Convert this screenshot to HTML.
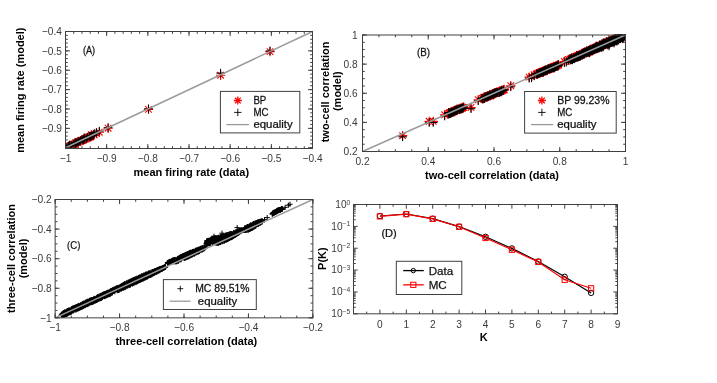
<!DOCTYPE html>
<html><head><meta charset="utf-8"><title>figure</title>
<style>html,body{margin:0;padding:0;background:#fff;}body{width:717px;height:383px;overflow:hidden;font-family:"Liberation Sans",sans-serif;}svg{display:block;will-change:transform;}</style>
</head><body>
<svg width="717" height="383" viewBox="0 0 717 383" font-family="Liberation Sans, sans-serif">
<rect width="717" height="383" fill="#fff"/>
<clipPath id="ca"><rect x="65.5" y="27.5" width="251.0" height="121.0"/></clipPath>
<g clip-path="url(#ca)">
<path d="M61.5 147.4h9.4M66.2 142.7v9.4M62.9 144.1l6.6 6.6M62.9 150.7l6.6 -6.6M62.9 146.7h9.4M67.6 142.0v9.4M64.3 143.4l6.6 6.6M64.3 150.1l6.6 -6.6M64.1 146.0h9.4M68.8 141.3v9.4M65.4 142.7l6.6 6.6M65.4 149.4l6.6 -6.6M66.4 146.4h9.4M71.1 141.7v9.4M67.7 143.1l6.6 6.6M67.7 149.7l6.6 -6.6M65.4 145.9h9.4M70.1 141.2v9.4M66.8 142.6l6.6 6.6M66.8 149.3l6.6 -6.6M67.3 145.2h9.4M72.0 140.5v9.4M68.7 141.9l6.6 6.6M68.7 148.5l6.6 -6.6M66.4 145.7h9.4M71.1 141.0v9.4M67.8 142.4l6.6 6.6M67.8 149.0l6.6 -6.6M70.8 144.5h9.4M75.5 139.8v9.4M72.1 141.2l6.6 6.6M72.1 147.9l6.6 -6.6M69.3 144.2h9.4M74.0 139.5v9.4M70.7 140.9l6.6 6.6M70.7 147.5l6.6 -6.6M69.9 144.1h9.4M74.6 139.4v9.4M71.3 140.8l6.6 6.6M71.3 147.5l6.6 -6.6M70.9 142.8h9.4M75.6 138.1v9.4M72.3 139.5l6.6 6.6M72.3 146.2l6.6 -6.6M72.6 142.6h9.4M77.3 137.9v9.4M74.0 139.3l6.6 6.6M74.0 146.0l6.6 -6.6M73.1 141.7h9.4M77.8 137.0v9.4M74.5 138.4l6.6 6.6M74.5 145.0l6.6 -6.6M73.8 141.8h9.4M78.5 137.1v9.4M75.2 138.5l6.6 6.6M75.2 145.2l6.6 -6.6M73.6 141.5h9.4M78.3 136.8v9.4M75.0 138.2l6.6 6.6M75.0 144.8l6.6 -6.6M76.2 140.7h9.4M80.9 136.0v9.4M77.6 137.4l6.6 6.6M77.6 144.1l6.6 -6.6M76.4 140.7h9.4M81.1 136.0v9.4M77.8 137.4l6.6 6.6M77.8 144.0l6.6 -6.6M78.1 140.5h9.4M82.8 135.8v9.4M79.4 137.2l6.6 6.6M79.4 143.9l6.6 -6.6M78.6 139.8h9.4M83.3 135.1v9.4M80.0 136.5l6.6 6.6M80.0 143.1l6.6 -6.6M79.9 139.1h9.4M84.6 134.4v9.4M81.2 135.8l6.6 6.6M81.2 142.5l6.6 -6.6M80.1 138.7h9.4M84.8 134.0v9.4M81.5 135.4l6.6 6.6M81.5 142.1l6.6 -6.6M80.5 138.5h9.4M85.2 133.8v9.4M81.9 135.2l6.6 6.6M81.9 141.9l6.6 -6.6M82.1 138.2h9.4M86.8 133.5v9.4M83.5 134.9l6.6 6.6M83.5 141.5l6.6 -6.6M84.0 137.7h9.4M88.7 133.0v9.4M85.4 134.4l6.6 6.6M85.4 141.0l6.6 -6.6M84.7 136.9h9.4M89.4 132.2v9.4M86.1 133.6l6.6 6.6M86.1 140.2l6.6 -6.6M84.3 136.8h9.4M89.0 132.1v9.4M85.7 133.4l6.6 6.6M85.7 140.1l6.6 -6.6M85.6 137.0h9.4M90.3 132.3v9.4M87.0 133.7l6.6 6.6M87.0 140.3l6.6 -6.6M86.4 136.2h9.4M91.1 131.5v9.4M87.8 132.9l6.6 6.6M87.8 139.5l6.6 -6.6M87.0 135.5h9.4M91.7 130.8v9.4M88.3 132.2l6.6 6.6M88.3 138.8l6.6 -6.6M86.7 134.6h9.4M91.4 129.9v9.4M88.1 131.3l6.6 6.6M88.1 138.0l6.6 -6.6M89.6 134.6h9.4M94.3 129.9v9.4M91.0 131.2l6.6 6.6M91.0 137.9l6.6 -6.6M91.7 133.6h9.4M96.4 128.9v9.4M93.1 130.3l6.6 6.6M93.1 136.9l6.6 -6.6M94.6 132.2h9.4M99.3 127.5v9.4M95.9 128.9l6.6 6.6M95.9 135.6l6.6 -6.6M215.9 75.2h9.4M220.6 70.5v9.4M217.3 71.9l6.6 6.6M217.3 78.5l6.6 -6.6M265.3 51.6h9.4M270.0 46.9v9.4M266.7 48.3l6.6 6.6M266.7 54.9l6.6 -6.6M143.8 109.4h9.4M148.5 104.7v9.4M145.2 106.1l6.6 6.6M145.2 112.7l6.6 -6.6M103.4 128.2h9.4M108.1 123.5v9.4M104.8 124.9l6.6 6.6M104.8 131.5l6.6 -6.6" stroke="#ff0000" stroke-width="1.1" fill="none"/>
<path d="M61.2 147.8h8.6M65.5 143.5v8.6M61.9 147.2h8.6M66.2 142.9v8.6M64.9 146.4h8.6M69.2 142.1v8.6M64.0 146.4h8.6M68.3 142.1v8.6M65.6 145.6h8.6M69.9 141.3v8.6M65.3 144.9h8.6M69.6 140.6v8.6M67.0 145.2h8.6M71.3 140.9v8.6M69.1 144.6h8.6M73.4 140.3v8.6M69.5 143.9h8.6M73.8 139.6v8.6M71.4 143.8h8.6M75.7 139.5v8.6M70.8 142.7h8.6M75.1 138.4v8.6M72.1 142.9h8.6M76.4 138.6v8.6M72.8 142.0h8.6M77.1 137.7v8.6M74.1 141.9h8.6M78.4 137.6v8.6M75.6 141.3h8.6M79.9 137.0v8.6M76.1 140.6h8.6M80.4 136.3v8.6M78.7 140.2h8.6M83.0 135.9v8.6M79.7 139.5h8.6M84.0 135.2v8.6M77.7 139.7h8.6M82.0 135.4v8.6M79.4 138.9h8.6M83.7 134.6v8.6M79.6 139.3h8.6M83.9 135.0v8.6M82.0 138.8h8.6M86.3 134.5v8.6M80.0 137.8h8.6M84.3 133.5v8.6M83.3 137.1h8.6M87.6 132.8v8.6M85.9 136.7h8.6M90.2 132.4v8.6M85.9 136.1h8.6M90.2 131.8v8.6M85.2 136.3h8.6M89.5 132.0v8.6M86.9 135.9h8.6M91.2 131.6v8.6M88.0 135.6h8.6M92.3 131.3v8.6M89.4 135.1h8.6M93.7 130.8v8.6M90.0 133.4h8.6M94.3 129.1v8.6M92.1 132.4h8.6M96.4 128.1v8.6M95.0 131.1h8.6M99.3 126.8v8.6M216.3 73.1h8.6M220.6 68.8v8.6M265.7 50.9h8.6M270.0 46.6v8.6M144.2 108.8h8.6M148.5 104.5v8.6M103.8 127.7h8.6M108.1 123.4v8.6" stroke="#000" stroke-width="1" fill="none"/>
<path d="M65.50 147.73L312.50 31.50" stroke="#9a9a9a" stroke-width="1.5" fill="none"/>
</g>
<rect x="65.50" y="31.50" width="247.00" height="117.00" fill="none" stroke="#404040" stroke-width="1"/>
<path d="M65.50 148.50v-4.5M65.50 31.50v4.5M106.67 148.50v-4.5M106.67 31.50v4.5M147.83 148.50v-4.5M147.83 31.50v4.5M189.00 148.50v-4.5M189.00 31.50v4.5M230.17 148.50v-4.5M230.17 31.50v4.5M271.33 148.50v-4.5M271.33 31.50v4.5M312.50 148.50v-4.5M312.50 31.50v4.5M65.50 148.50v-2.3M65.50 31.50v2.3M73.73 148.50v-2.3M73.73 31.50v2.3M81.97 148.50v-2.3M81.97 31.50v2.3M90.20 148.50v-2.3M90.20 31.50v2.3M98.43 148.50v-2.3M98.43 31.50v2.3M106.67 148.50v-2.3M106.67 31.50v2.3M114.90 148.50v-2.3M114.90 31.50v2.3M123.13 148.50v-2.3M123.13 31.50v2.3M131.37 148.50v-2.3M131.37 31.50v2.3M139.60 148.50v-2.3M139.60 31.50v2.3M147.83 148.50v-2.3M147.83 31.50v2.3M156.07 148.50v-2.3M156.07 31.50v2.3M164.30 148.50v-2.3M164.30 31.50v2.3M172.53 148.50v-2.3M172.53 31.50v2.3M180.77 148.50v-2.3M180.77 31.50v2.3M189.00 148.50v-2.3M189.00 31.50v2.3M197.23 148.50v-2.3M197.23 31.50v2.3M205.47 148.50v-2.3M205.47 31.50v2.3M213.70 148.50v-2.3M213.70 31.50v2.3M221.93 148.50v-2.3M221.93 31.50v2.3M230.17 148.50v-2.3M230.17 31.50v2.3M238.40 148.50v-2.3M238.40 31.50v2.3M246.63 148.50v-2.3M246.63 31.50v2.3M254.87 148.50v-2.3M254.87 31.50v2.3M263.10 148.50v-2.3M263.10 31.50v2.3M271.33 148.50v-2.3M271.33 31.50v2.3M279.57 148.50v-2.3M279.57 31.50v2.3M287.80 148.50v-2.3M287.80 31.50v2.3M296.03 148.50v-2.3M296.03 31.50v2.3M304.27 148.50v-2.3M304.27 31.50v2.3M312.50 148.50v-2.3M312.50 31.50v2.3M65.50 147.73h4.5M312.50 147.73h-4.5M65.50 128.35h4.5M312.50 128.35h-4.5M65.50 108.98h4.5M312.50 108.98h-4.5M65.50 89.61h4.5M312.50 89.61h-4.5M65.50 70.24h4.5M312.50 70.24h-4.5M65.50 50.87h4.5M312.50 50.87h-4.5M65.50 31.50h4.5M312.50 31.50h-4.5M65.50 147.73h2.3M312.50 147.73h-2.3M65.50 143.85h2.3M312.50 143.85h-2.3M65.50 139.98h2.3M312.50 139.98h-2.3M65.50 136.10h2.3M312.50 136.10h-2.3M65.50 132.23h2.3M312.50 132.23h-2.3M65.50 128.35h2.3M312.50 128.35h-2.3M65.50 124.48h2.3M312.50 124.48h-2.3M65.50 120.61h2.3M312.50 120.61h-2.3M65.50 116.73h2.3M312.50 116.73h-2.3M65.50 112.86h2.3M312.50 112.86h-2.3M65.50 108.98h2.3M312.50 108.98h-2.3M65.50 105.11h2.3M312.50 105.11h-2.3M65.50 101.24h2.3M312.50 101.24h-2.3M65.50 97.36h2.3M312.50 97.36h-2.3M65.50 93.49h2.3M312.50 93.49h-2.3M65.50 89.61h2.3M312.50 89.61h-2.3M65.50 85.74h2.3M312.50 85.74h-2.3M65.50 81.86h2.3M312.50 81.86h-2.3M65.50 77.99h2.3M312.50 77.99h-2.3M65.50 74.12h2.3M312.50 74.12h-2.3M65.50 70.24h2.3M312.50 70.24h-2.3M65.50 66.37h2.3M312.50 66.37h-2.3M65.50 62.49h2.3M312.50 62.49h-2.3M65.50 58.62h2.3M312.50 58.62h-2.3M65.50 54.75h2.3M312.50 54.75h-2.3M65.50 50.87h2.3M312.50 50.87h-2.3M65.50 47.00h2.3M312.50 47.00h-2.3M65.50 43.12h2.3M312.50 43.12h-2.3M65.50 39.25h2.3M312.50 39.25h-2.3M65.50 35.37h2.3M312.50 35.37h-2.3M65.50 31.50h2.3M312.50 31.50h-2.3" stroke="#404040" stroke-width="1" fill="none"/>
<text transform="translate(65.50,161.70) scale(0.95,1)" font-size="10.7" text-anchor="middle" fill="#3a3a3a">−1</text>
<text transform="translate(106.67,161.70) scale(0.95,1)" font-size="10.7" text-anchor="middle" fill="#3a3a3a">−0.9</text>
<text transform="translate(147.83,161.70) scale(0.95,1)" font-size="10.7" text-anchor="middle" fill="#3a3a3a">−0.8</text>
<text transform="translate(189.00,161.70) scale(0.95,1)" font-size="10.7" text-anchor="middle" fill="#3a3a3a">−0.7</text>
<text transform="translate(230.17,161.70) scale(0.95,1)" font-size="10.7" text-anchor="middle" fill="#3a3a3a">−0.6</text>
<text transform="translate(271.33,161.70) scale(0.95,1)" font-size="10.7" text-anchor="middle" fill="#3a3a3a">−0.5</text>
<text transform="translate(312.50,161.70) scale(0.95,1)" font-size="10.7" text-anchor="middle" fill="#3a3a3a">−0.4</text>
<text transform="translate(61.90,132.05) scale(0.95,1)" font-size="10.7" text-anchor="end" fill="#3a3a3a">−0.9</text>
<text transform="translate(61.90,112.68) scale(0.95,1)" font-size="10.7" text-anchor="end" fill="#3a3a3a">−0.8</text>
<text transform="translate(61.90,93.31) scale(0.95,1)" font-size="10.7" text-anchor="end" fill="#3a3a3a">−0.7</text>
<text transform="translate(61.90,73.94) scale(0.95,1)" font-size="10.7" text-anchor="end" fill="#3a3a3a">−0.6</text>
<text transform="translate(61.90,54.57) scale(0.95,1)" font-size="10.7" text-anchor="end" fill="#3a3a3a">−0.5</text>
<text transform="translate(61.90,35.20) scale(0.95,1)" font-size="10.7" text-anchor="end" fill="#3a3a3a">−0.4</text>
<text transform="translate(191.30,175.70) scale(1.0,1)" font-size="11.0" font-weight="bold" text-anchor="middle" fill="#000">mean firing rate (data)</text>
<text transform="translate(24.20,90.20) rotate(-90) scale(1.0,1)" font-size="11.0" font-weight="bold" text-anchor="middle" fill="#000">mean firing rate (model)</text>
<text transform="translate(82.90,53.80) scale(0.92,1)" font-size="10.0" stroke="#111" stroke-width="0.25" text-anchor="start" fill="#111">(A)</text>
<rect x="220.40" y="91.40" width="79.40" height="41.50" fill="#fff" stroke="#404040" stroke-width="1"/>
<path d="M233.8 100.5h8.0M237.8 96.5v8.0M235.0 97.7l5.7 5.7M235.0 103.3l5.7 -5.7" stroke="#ff0000" stroke-width="1.3" fill="none"/>
<text transform="translate(253.40,103.60) scale(0.95,1)" font-size="10.2" stroke="#111" stroke-width="0.25" text-anchor="start" fill="#111">BP</text>
<path d="M234.1 112.4h7.4M237.8 108.7v7.4" stroke="#000" stroke-width="0.9" fill="none"/>
<text transform="translate(253.40,115.80) scale(0.95,1)" font-size="10.2" stroke="#111" stroke-width="0.25" text-anchor="start" fill="#111">MC</text>
<path d="M226.40 124.60H249.00" stroke="#9a9a9a" stroke-width="1.3" fill="none"/>
<text transform="translate(253.40,128.00) scale(1.12,1)" font-size="10.2" stroke="#111" stroke-width="0.25" text-anchor="start" fill="#111">equality</text>
<clipPath id="cb"><rect x="362.5" y="34.5" width="263.5" height="117.0"/></clipPath>
<g clip-path="url(#cb)">
<path d="M397.9 135.6h9.4M402.6 130.9v9.4M399.3 132.3l6.6 6.6M399.3 139.0l6.6 -6.6M424.5 121.4h9.4M429.2 116.7v9.4M425.9 118.0l6.6 6.6M425.9 124.7l6.6 -6.6M428.5 121.4h9.4M433.2 116.7v9.4M429.9 118.0l6.6 6.6M429.9 124.7l6.6 -6.6M440.0 114.8h9.4M444.7 110.1v9.4M441.4 111.5l6.6 6.6M441.4 118.1l6.6 -6.6M466.3 107.5h9.4M471.0 102.8v9.4M467.7 104.2l6.6 6.6M467.7 110.8l6.6 -6.6M473.5 99.7h9.4M478.2 95.0v9.4M474.9 96.3l6.6 6.6M474.9 103.0l6.6 -6.6M506.1 85.7h9.4M510.8 81.0v9.4M507.4 82.4l6.6 6.6M507.4 89.0l6.6 -6.6M524.5 77.1h9.4M529.2 72.4v9.4M525.9 73.8l6.6 6.6M525.9 80.4l6.6 -6.6M526.8 76.6h9.4M531.5 71.9v9.4M528.2 73.3l6.6 6.6M528.2 80.0l6.6 -6.6M529.4 74.6h9.4M534.1 69.9v9.4M530.8 71.3l6.6 6.6M530.8 77.9l6.6 -6.6M559.7 61.5h9.4M564.4 56.8v9.4M561.0 58.2l6.6 6.6M561.0 64.8l6.6 -6.6M561.6 61.1h9.4M566.3 56.4v9.4M563.0 57.7l6.6 6.6M563.0 64.4l6.6 -6.6M563.6 59.5h9.4M568.3 54.8v9.4M565.0 56.1l6.6 6.6M565.0 62.8l6.6 -6.6M442.9 114.0h9.4M447.6 109.3v9.4M444.2 110.7l6.6 6.6M444.2 117.3l6.6 -6.6M444.3 113.4h9.4M449.0 108.7v9.4M445.7 110.0l6.6 6.6M445.7 116.7l6.6 -6.6M444.6 113.1h9.4M449.3 108.4v9.4M446.0 109.7l6.6 6.6M446.0 116.4l6.6 -6.6M444.9 113.1h9.4M449.6 108.4v9.4M446.2 109.7l6.6 6.6M446.2 116.4l6.6 -6.6M445.6 112.6h9.4M450.3 107.9v9.4M447.0 109.2l6.6 6.6M447.0 115.9l6.6 -6.6M446.5 112.8h9.4M451.2 108.1v9.4M447.9 109.5l6.6 6.6M447.9 116.1l6.6 -6.6M446.5 112.5h9.4M451.2 107.8v9.4M447.9 109.2l6.6 6.6M447.9 115.9l6.6 -6.6M446.9 111.8h9.4M451.6 107.1v9.4M448.3 108.5l6.6 6.6M448.3 115.2l6.6 -6.6M446.9 111.9h9.4M451.6 107.2v9.4M448.3 108.5l6.6 6.6M448.3 115.2l6.6 -6.6M446.9 111.8h9.4M451.6 107.1v9.4M448.3 108.4l6.6 6.6M448.3 115.1l6.6 -6.6M447.4 111.4h9.4M452.1 106.7v9.4M448.7 108.1l6.6 6.6M448.7 114.7l6.6 -6.6M448.3 111.6h9.4M453.0 106.9v9.4M449.7 108.3l6.6 6.6M449.7 114.9l6.6 -6.6M449.1 111.3h9.4M453.8 106.6v9.4M450.5 108.0l6.6 6.6M450.5 114.6l6.6 -6.6M449.6 111.1h9.4M454.3 106.4v9.4M451.0 107.8l6.6 6.6M451.0 114.4l6.6 -6.6M449.8 111.5h9.4M454.5 106.8v9.4M451.2 108.1l6.6 6.6M451.2 114.8l6.6 -6.6M449.2 110.8h9.4M453.9 106.1v9.4M450.6 107.5l6.6 6.6M450.6 114.1l6.6 -6.6M451.2 110.5h9.4M455.9 105.8v9.4M452.6 107.2l6.6 6.6M452.6 113.9l6.6 -6.6M450.2 110.7h9.4M454.9 106.0v9.4M451.6 107.3l6.6 6.6M451.6 114.0l6.6 -6.6M451.7 110.0h9.4M456.4 105.3v9.4M453.1 106.7l6.6 6.6M453.1 113.3l6.6 -6.6M451.4 110.6h9.4M456.1 105.9v9.4M452.8 107.3l6.6 6.6M452.8 114.0l6.6 -6.6M452.5 109.7h9.4M457.2 105.0v9.4M453.9 106.4l6.6 6.6M453.9 113.0l6.6 -6.6M452.9 109.4h9.4M457.6 104.7v9.4M454.3 106.1l6.6 6.6M454.3 112.8l6.6 -6.6M452.4 109.4h9.4M457.1 104.7v9.4M453.8 106.1l6.6 6.6M453.8 112.8l6.6 -6.6M453.9 109.3h9.4M458.6 104.6v9.4M455.2 106.0l6.6 6.6M455.2 112.7l6.6 -6.6M455.1 109.2h9.4M459.8 104.5v9.4M456.4 105.9l6.6 6.6M456.4 112.5l6.6 -6.6M456.3 108.7h9.4M461.0 104.0v9.4M457.7 105.4l6.6 6.6M457.7 112.1l6.6 -6.6M455.8 108.4h9.4M460.5 103.7v9.4M457.1 105.1l6.6 6.6M457.1 111.7l6.6 -6.6M457.6 108.4h9.4M462.3 103.7v9.4M459.0 105.0l6.6 6.6M459.0 111.7l6.6 -6.6M456.6 107.9h9.4M461.3 103.2v9.4M458.0 104.6l6.6 6.6M458.0 111.3l6.6 -6.6M457.8 108.2h9.4M462.5 103.5v9.4M459.1 104.9l6.6 6.6M459.1 111.6l6.6 -6.6M457.7 108.0h9.4M462.4 103.3v9.4M459.1 104.7l6.6 6.6M459.1 111.3l6.6 -6.6M458.1 107.1h9.4M462.8 102.4v9.4M459.5 103.8l6.6 6.6M459.5 110.4l6.6 -6.6M458.2 107.6h9.4M462.9 102.9v9.4M459.6 104.2l6.6 6.6M459.6 110.9l6.6 -6.6M458.9 107.4h9.4M463.6 102.7v9.4M460.3 104.1l6.6 6.6M460.3 110.8l6.6 -6.6M477.9 98.5h9.4M482.6 93.8v9.4M479.2 95.2l6.6 6.6M479.2 101.8l6.6 -6.6M479.7 98.2h9.4M484.4 93.5v9.4M481.1 94.9l6.6 6.6M481.1 101.5l6.6 -6.6M479.2 98.4h9.4M483.9 93.7v9.4M480.6 95.1l6.6 6.6M480.6 101.7l6.6 -6.6M479.2 97.8h9.4M483.9 93.1v9.4M480.6 94.4l6.6 6.6M480.6 101.1l6.6 -6.6M479.0 97.3h9.4M483.7 92.6v9.4M480.4 94.0l6.6 6.6M480.4 100.6l6.6 -6.6M480.8 97.2h9.4M485.5 92.5v9.4M482.2 93.8l6.6 6.6M482.2 100.5l6.6 -6.6M480.4 97.3h9.4M485.1 92.6v9.4M481.8 94.0l6.6 6.6M481.8 100.6l6.6 -6.6M481.7 96.8h9.4M486.4 92.1v9.4M483.0 93.5l6.6 6.6M483.0 100.1l6.6 -6.6M482.6 96.6h9.4M487.3 91.9v9.4M484.0 93.2l6.6 6.6M484.0 99.9l6.6 -6.6M482.8 95.9h9.4M487.5 91.2v9.4M484.2 92.5l6.6 6.6M484.2 99.2l6.6 -6.6M482.8 96.1h9.4M487.5 91.4v9.4M484.2 92.7l6.6 6.6M484.2 99.4l6.6 -6.6M483.3 96.0h9.4M488.0 91.3v9.4M484.7 92.7l6.6 6.6M484.7 99.3l6.6 -6.6M485.6 95.7h9.4M490.3 91.0v9.4M487.0 92.4l6.6 6.6M487.0 99.0l6.6 -6.6M484.8 95.3h9.4M489.5 90.6v9.4M486.2 91.9l6.6 6.6M486.2 98.6l6.6 -6.6M486.7 95.1h9.4M491.4 90.4v9.4M488.1 91.8l6.6 6.6M488.1 98.4l6.6 -6.6M486.5 94.9h9.4M491.2 90.2v9.4M487.9 91.5l6.6 6.6M487.9 98.2l6.6 -6.6M487.3 94.8h9.4M492.0 90.1v9.4M488.6 91.4l6.6 6.6M488.6 98.1l6.6 -6.6M487.8 94.5h9.4M492.5 89.8v9.4M489.2 91.2l6.6 6.6M489.2 97.9l6.6 -6.6M487.8 93.6h9.4M492.5 88.9v9.4M489.2 90.3l6.6 6.6M489.2 97.0l6.6 -6.6M489.1 94.1h9.4M493.8 89.4v9.4M490.5 90.7l6.6 6.6M490.5 97.4l6.6 -6.6M488.3 94.0h9.4M493.0 89.3v9.4M489.7 90.7l6.6 6.6M489.7 97.3l6.6 -6.6M490.6 93.4h9.4M495.3 88.7v9.4M492.0 90.1l6.6 6.6M492.0 96.8l6.6 -6.6M490.4 93.1h9.4M495.1 88.4v9.4M491.7 89.7l6.6 6.6M491.7 96.4l6.6 -6.6M490.1 93.2h9.4M494.8 88.5v9.4M491.4 89.9l6.6 6.6M491.4 96.6l6.6 -6.6M492.3 92.5h9.4M497.0 87.8v9.4M493.7 89.2l6.6 6.6M493.7 95.9l6.6 -6.6M491.6 92.4h9.4M496.3 87.7v9.4M493.0 89.1l6.6 6.6M493.0 95.7l6.6 -6.6M492.5 92.3h9.4M497.2 87.6v9.4M493.9 89.0l6.6 6.6M493.9 95.7l6.6 -6.6M493.9 92.2h9.4M498.6 87.5v9.4M495.3 88.9l6.6 6.6M495.3 95.5l6.6 -6.6M492.7 92.1h9.4M497.4 87.4v9.4M494.1 88.7l6.6 6.6M494.1 95.4l6.6 -6.6M494.0 91.5h9.4M498.7 86.8v9.4M495.4 88.1l6.6 6.6M495.4 94.8l6.6 -6.6M494.8 91.6h9.4M499.5 86.9v9.4M496.2 88.2l6.6 6.6M496.2 94.9l6.6 -6.6M495.1 90.9h9.4M499.8 86.2v9.4M496.5 87.6l6.6 6.6M496.5 94.2l6.6 -6.6M495.2 91.1h9.4M499.9 86.4v9.4M496.6 87.7l6.6 6.6M496.6 94.4l6.6 -6.6M496.7 90.8h9.4M501.4 86.1v9.4M498.1 87.5l6.6 6.6M498.1 94.1l6.6 -6.6M497.2 90.5h9.4M501.9 85.8v9.4M498.6 87.2l6.6 6.6M498.6 93.8l6.6 -6.6M497.9 90.2h9.4M502.6 85.5v9.4M499.3 86.9l6.6 6.6M499.3 93.6l6.6 -6.6M499.4 90.1h9.4M504.1 85.4v9.4M500.7 86.8l6.6 6.6M500.7 93.4l6.6 -6.6M499.6 89.5h9.4M504.3 84.8v9.4M501.0 86.2l6.6 6.6M501.0 92.8l6.6 -6.6M532.6 74.0h9.4M537.3 69.3v9.4M534.0 70.7l6.6 6.6M534.0 77.3l6.6 -6.6M531.6 74.1h9.4M536.3 69.4v9.4M533.0 70.8l6.6 6.6M533.0 77.4l6.6 -6.6M532.9 73.4h9.4M537.6 68.7v9.4M534.3 70.1l6.6 6.6M534.3 76.7l6.6 -6.6M534.6 73.3h9.4M539.3 68.6v9.4M536.0 70.0l6.6 6.6M536.0 76.7l6.6 -6.6M535.0 73.4h9.4M539.7 68.7v9.4M536.3 70.1l6.6 6.6M536.3 76.7l6.6 -6.6M534.7 72.6h9.4M539.4 67.9v9.4M536.1 69.3l6.6 6.6M536.1 76.0l6.6 -6.6M534.3 72.6h9.4M539.0 67.9v9.4M535.7 69.3l6.6 6.6M535.7 75.9l6.6 -6.6M536.6 72.4h9.4M541.3 67.7v9.4M538.0 69.1l6.6 6.6M538.0 75.7l6.6 -6.6M536.3 71.9h9.4M541.0 67.2v9.4M537.7 68.6l6.6 6.6M537.7 75.2l6.6 -6.6M537.9 72.1h9.4M542.6 67.4v9.4M539.2 68.7l6.6 6.6M539.2 75.4l6.6 -6.6M537.2 72.0h9.4M541.9 67.3v9.4M538.6 68.7l6.6 6.6M538.6 75.4l6.6 -6.6M537.9 71.9h9.4M542.6 67.2v9.4M539.3 68.5l6.6 6.6M539.3 75.2l6.6 -6.6M537.6 71.4h9.4M542.3 66.7v9.4M538.9 68.0l6.6 6.6M538.9 74.7l6.6 -6.6M538.9 71.7h9.4M543.6 67.0v9.4M540.3 68.4l6.6 6.6M540.3 75.1l6.6 -6.6M538.4 71.1h9.4M543.1 66.4v9.4M539.8 67.8l6.6 6.6M539.8 74.4l6.6 -6.6M539.7 70.9h9.4M544.4 66.2v9.4M541.1 67.6l6.6 6.6M541.1 74.3l6.6 -6.6M539.2 70.6h9.4M543.9 65.9v9.4M540.6 67.3l6.6 6.6M540.6 73.9l6.6 -6.6M540.3 70.6h9.4M545.0 65.9v9.4M541.7 67.3l6.6 6.6M541.7 73.9l6.6 -6.6M541.3 70.2h9.4M546.0 65.5v9.4M542.6 66.9l6.6 6.6M542.6 73.5l6.6 -6.6M541.4 70.0h9.4M546.1 65.3v9.4M542.8 66.7l6.6 6.6M542.8 73.3l6.6 -6.6M541.8 70.0h9.4M546.5 65.3v9.4M543.2 66.6l6.6 6.6M543.2 73.3l6.6 -6.6M542.4 69.9h9.4M547.1 65.2v9.4M543.8 66.6l6.6 6.6M543.8 73.2l6.6 -6.6M542.6 69.7h9.4M547.3 65.0v9.4M544.0 66.4l6.6 6.6M544.0 73.1l6.6 -6.6M543.4 69.3h9.4M548.1 64.6v9.4M544.8 66.0l6.6 6.6M544.8 72.6l6.6 -6.6M544.6 69.1h9.4M549.3 64.4v9.4M546.0 65.8l6.6 6.6M546.0 72.5l6.6 -6.6M544.3 69.3h9.4M549.0 64.6v9.4M545.7 65.9l6.6 6.6M545.7 72.6l6.6 -6.6M546.0 68.7h9.4M550.7 64.0v9.4M547.4 65.4l6.6 6.6M547.4 72.1l6.6 -6.6M546.3 68.4h9.4M551.0 63.7v9.4M547.7 65.1l6.6 6.6M547.7 71.7l6.6 -6.6M546.8 68.2h9.4M551.5 63.5v9.4M548.2 64.9l6.6 6.6M548.2 71.6l6.6 -6.6M546.9 68.3h9.4M551.6 63.6v9.4M548.3 65.0l6.6 6.6M548.3 71.6l6.6 -6.6M547.5 67.8h9.4M552.2 63.1v9.4M548.8 64.5l6.6 6.6M548.8 71.1l6.6 -6.6M547.3 67.6h9.4M552.0 62.9v9.4M548.7 64.2l6.6 6.6M548.7 70.9l6.6 -6.6M547.1 67.5h9.4M551.8 62.8v9.4M548.5 64.2l6.6 6.6M548.5 70.8l6.6 -6.6M549.0 67.1h9.4M553.7 62.4v9.4M550.4 63.7l6.6 6.6M550.4 70.4l6.6 -6.6M549.1 66.9h9.4M553.8 62.2v9.4M550.5 63.6l6.6 6.6M550.5 70.2l6.6 -6.6M548.8 66.5h9.4M553.5 61.8v9.4M550.2 63.2l6.6 6.6M550.2 69.9l6.6 -6.6M548.6 66.5h9.4M553.3 61.8v9.4M550.0 63.2l6.6 6.6M550.0 69.8l6.6 -6.6M551.3 66.2h9.4M556.0 61.5v9.4M552.6 62.9l6.6 6.6M552.6 69.5l6.6 -6.6M551.1 66.2h9.4M555.8 61.5v9.4M552.5 62.8l6.6 6.6M552.5 69.5l6.6 -6.6M551.4 65.9h9.4M556.1 61.2v9.4M552.8 62.5l6.6 6.6M552.8 69.2l6.6 -6.6M551.6 65.6h9.4M556.3 60.9v9.4M552.9 62.3l6.6 6.6M552.9 68.9l6.6 -6.6M552.3 65.9h9.4M557.0 61.2v9.4M553.6 62.5l6.6 6.6M553.6 69.2l6.6 -6.6M552.3 65.4h9.4M557.0 60.7v9.4M553.7 62.1l6.6 6.6M553.7 68.7l6.6 -6.6M553.4 65.4h9.4M558.1 60.7v9.4M554.8 62.1l6.6 6.6M554.8 68.7l6.6 -6.6M553.9 64.9h9.4M558.6 60.2v9.4M555.3 61.5l6.6 6.6M555.3 68.2l6.6 -6.6M565.7 59.2h9.4M570.4 54.5v9.4M567.1 55.8l6.6 6.6M567.1 62.5l6.6 -6.6M566.2 59.1h9.4M570.9 54.4v9.4M567.6 55.8l6.6 6.6M567.6 62.5l6.6 -6.6M566.1 59.0h9.4M570.8 54.3v9.4M567.5 55.7l6.6 6.6M567.5 62.3l6.6 -6.6M567.5 58.8h9.4M572.2 54.1v9.4M568.9 55.5l6.6 6.6M568.9 62.2l6.6 -6.6M566.5 58.8h9.4M571.2 54.1v9.4M567.8 55.4l6.6 6.6M567.8 62.1l6.6 -6.6M567.5 58.6h9.4M572.2 53.9v9.4M568.9 55.3l6.6 6.6M568.9 61.9l6.6 -6.6M567.0 58.3h9.4M571.7 53.6v9.4M568.3 55.0l6.6 6.6M568.3 61.7l6.6 -6.6M568.8 58.3h9.4M573.5 53.6v9.4M570.2 55.0l6.6 6.6M570.2 61.6l6.6 -6.6M569.9 58.0h9.4M574.6 53.3v9.4M571.3 54.6l6.6 6.6M571.3 61.3l6.6 -6.6M569.0 58.1h9.4M573.7 53.4v9.4M570.4 54.8l6.6 6.6M570.4 61.5l6.6 -6.6M568.2 58.0h9.4M572.9 53.3v9.4M569.6 54.6l6.6 6.6M569.6 61.3l6.6 -6.6M569.2 57.1h9.4M573.9 52.4v9.4M570.5 53.8l6.6 6.6M570.5 60.5l6.6 -6.6M569.3 57.5h9.4M574.0 52.8v9.4M570.6 54.2l6.6 6.6M570.6 60.8l6.6 -6.6M569.8 57.4h9.4M574.5 52.7v9.4M571.2 54.1l6.6 6.6M571.2 60.7l6.6 -6.6M570.2 57.5h9.4M574.9 52.8v9.4M571.6 54.2l6.6 6.6M571.6 60.8l6.6 -6.6M570.7 57.3h9.4M575.4 52.6v9.4M572.1 54.0l6.6 6.6M572.1 60.7l6.6 -6.6M571.1 56.8h9.4M575.8 52.1v9.4M572.4 53.5l6.6 6.6M572.4 60.1l6.6 -6.6M570.5 56.7h9.4M575.2 52.0v9.4M571.9 53.4l6.6 6.6M571.9 60.1l6.6 -6.6M572.2 57.1h9.4M576.9 52.4v9.4M573.5 53.8l6.6 6.6M573.5 60.4l6.6 -6.6M571.9 56.8h9.4M576.6 52.1v9.4M573.3 53.5l6.6 6.6M573.3 60.1l6.6 -6.6M572.0 56.4h9.4M576.7 51.7v9.4M573.4 53.0l6.6 6.6M573.4 59.7l6.6 -6.6M572.4 56.7h9.4M577.1 52.0v9.4M573.8 53.3l6.6 6.6M573.8 60.0l6.6 -6.6M572.5 56.3h9.4M577.2 51.6v9.4M573.9 53.0l6.6 6.6M573.9 59.6l6.6 -6.6M573.9 56.2h9.4M578.6 51.5v9.4M575.3 52.9l6.6 6.6M575.3 59.5l6.6 -6.6M573.5 55.6h9.4M578.2 50.9v9.4M574.9 52.3l6.6 6.6M574.9 58.9l6.6 -6.6M573.1 55.8h9.4M577.8 51.1v9.4M574.5 52.4l6.6 6.6M574.5 59.1l6.6 -6.6M573.0 56.1h9.4M577.7 51.4v9.4M574.4 52.7l6.6 6.6M574.4 59.4l6.6 -6.6M575.0 55.3h9.4M579.7 50.6v9.4M576.4 51.9l6.6 6.6M576.4 58.6l6.6 -6.6M574.9 55.5h9.4M579.6 50.8v9.4M576.2 52.1l6.6 6.6M576.2 58.8l6.6 -6.6M575.2 55.3h9.4M579.9 50.6v9.4M576.6 51.9l6.6 6.6M576.6 58.6l6.6 -6.6M575.9 55.0h9.4M580.6 50.3v9.4M577.3 51.7l6.6 6.6M577.3 58.3l6.6 -6.6M575.0 54.8h9.4M579.7 50.1v9.4M576.4 51.4l6.6 6.6M576.4 58.1l6.6 -6.6M575.6 54.5h9.4M580.3 49.8v9.4M577.0 51.2l6.6 6.6M577.0 57.8l6.6 -6.6M576.6 54.5h9.4M581.3 49.8v9.4M578.0 51.2l6.6 6.6M578.0 57.8l6.6 -6.6M575.6 54.7h9.4M580.3 50.0v9.4M577.0 51.4l6.6 6.6M577.0 58.1l6.6 -6.6M575.4 54.4h9.4M580.1 49.7v9.4M576.8 51.1l6.6 6.6M576.8 57.7l6.6 -6.6M576.3 54.6h9.4M581.0 49.9v9.4M577.7 51.3l6.6 6.6M577.7 57.9l6.6 -6.6M577.2 54.0h9.4M581.9 49.3v9.4M578.6 50.7l6.6 6.6M578.6 57.3l6.6 -6.6M578.1 53.7h9.4M582.8 49.0v9.4M579.5 50.4l6.6 6.6M579.5 57.0l6.6 -6.6M578.6 54.2h9.4M583.3 49.5v9.4M580.0 50.9l6.6 6.6M580.0 57.5l6.6 -6.6M577.3 54.1h9.4M582.0 49.4v9.4M578.7 50.7l6.6 6.6M578.7 57.4l6.6 -6.6M578.7 53.3h9.4M583.4 48.6v9.4M580.1 50.0l6.6 6.6M580.1 56.7l6.6 -6.6M579.6 53.2h9.4M584.3 48.5v9.4M581.0 49.9l6.6 6.6M581.0 56.5l6.6 -6.6M578.7 53.4h9.4M583.4 48.7v9.4M580.0 50.1l6.6 6.6M580.0 56.8l6.6 -6.6M580.0 53.1h9.4M584.7 48.4v9.4M581.4 49.7l6.6 6.6M581.4 56.4l6.6 -6.6M580.4 52.8h9.4M585.1 48.1v9.4M581.8 49.5l6.6 6.6M581.8 56.1l6.6 -6.6M580.0 52.6h9.4M584.7 47.9v9.4M581.4 49.3l6.6 6.6M581.4 55.9l6.6 -6.6M580.2 52.7h9.4M584.9 48.0v9.4M581.5 49.4l6.6 6.6M581.5 56.1l6.6 -6.6M581.5 52.5h9.4M586.2 47.8v9.4M582.9 49.1l6.6 6.6M582.9 55.8l6.6 -6.6M581.0 52.3h9.4M585.7 47.6v9.4M582.4 49.0l6.6 6.6M582.4 55.7l6.6 -6.6M580.3 51.9h9.4M585.0 47.2v9.4M581.7 48.6l6.6 6.6M581.7 55.2l6.6 -6.6M582.8 52.2h9.4M587.5 47.5v9.4M584.2 48.8l6.6 6.6M584.2 55.5l6.6 -6.6M581.1 52.1h9.4M585.8 47.4v9.4M582.5 48.8l6.6 6.6M582.5 55.4l6.6 -6.6M582.6 52.1h9.4M587.3 47.4v9.4M584.0 48.8l6.6 6.6M584.0 55.4l6.6 -6.6M583.1 52.1h9.4M587.8 47.4v9.4M584.5 48.8l6.6 6.6M584.5 55.4l6.6 -6.6M582.4 52.2h9.4M587.1 47.5v9.4M583.8 48.9l6.6 6.6M583.8 55.5l6.6 -6.6M582.4 51.9h9.4M587.1 47.2v9.4M583.8 48.5l6.6 6.6M583.8 55.2l6.6 -6.6M583.5 52.1h9.4M588.2 47.4v9.4M584.9 48.8l6.6 6.6M584.9 55.4l6.6 -6.6M583.0 52.2h9.4M587.7 47.5v9.4M584.4 48.9l6.6 6.6M584.4 55.5l6.6 -6.6M585.1 51.7h9.4M589.8 47.0v9.4M586.5 48.4l6.6 6.6M586.5 55.1l6.6 -6.6M582.7 51.5h9.4M587.4 46.8v9.4M584.0 48.1l6.6 6.6M584.0 54.8l6.6 -6.6M583.1 51.4h9.4M587.8 46.7v9.4M584.5 48.1l6.6 6.6M584.5 54.7l6.6 -6.6M583.7 51.3h9.4M588.4 46.6v9.4M585.1 47.9l6.6 6.6M585.1 54.6l6.6 -6.6M584.1 51.1h9.4M588.8 46.4v9.4M585.5 47.8l6.6 6.6M585.5 54.4l6.6 -6.6M584.1 50.9h9.4M588.8 46.2v9.4M585.5 47.6l6.6 6.6M585.5 54.3l6.6 -6.6M584.2 51.3h9.4M588.9 46.6v9.4M585.5 47.9l6.6 6.6M585.5 54.6l6.6 -6.6M584.6 50.9h9.4M589.3 46.2v9.4M586.0 47.6l6.6 6.6M586.0 54.3l6.6 -6.6M583.6 50.9h9.4M588.3 46.2v9.4M585.0 47.6l6.6 6.6M585.0 54.2l6.6 -6.6M584.6 50.5h9.4M589.3 45.8v9.4M586.0 47.2l6.6 6.6M586.0 53.8l6.6 -6.6M584.8 50.8h9.4M589.5 46.1v9.4M586.2 47.5l6.6 6.6M586.2 54.1l6.6 -6.6M584.1 51.0h9.4M588.8 46.3v9.4M585.5 47.7l6.6 6.6M585.5 54.4l6.6 -6.6M584.7 50.5h9.4M589.4 45.8v9.4M586.0 47.2l6.6 6.6M586.0 53.8l6.6 -6.6M584.5 51.1h9.4M589.2 46.4v9.4M585.9 47.8l6.6 6.6M585.9 54.4l6.6 -6.6M587.1 50.7h9.4M591.8 46.0v9.4M588.5 47.4l6.6 6.6M588.5 54.1l6.6 -6.6M585.9 50.5h9.4M590.6 45.8v9.4M587.3 47.1l6.6 6.6M587.3 53.8l6.6 -6.6M584.8 49.9h9.4M589.5 45.2v9.4M586.2 46.5l6.6 6.6M586.2 53.2l6.6 -6.6M586.6 50.0h9.4M591.3 45.3v9.4M587.9 46.7l6.6 6.6M587.9 53.3l6.6 -6.6M586.0 50.1h9.4M590.7 45.4v9.4M587.4 46.8l6.6 6.6M587.4 53.5l6.6 -6.6M586.9 50.1h9.4M591.6 45.4v9.4M588.3 46.8l6.6 6.6M588.3 53.5l6.6 -6.6M586.6 49.4h9.4M591.3 44.7v9.4M588.0 46.1l6.6 6.6M588.0 52.7l6.6 -6.6M586.9 49.6h9.4M591.6 44.9v9.4M588.2 46.3l6.6 6.6M588.2 53.0l6.6 -6.6M587.2 49.6h9.4M591.9 44.9v9.4M588.6 46.3l6.6 6.6M588.6 53.0l6.6 -6.6M587.4 49.7h9.4M592.1 45.0v9.4M588.8 46.4l6.6 6.6M588.8 53.1l6.6 -6.6M588.3 49.5h9.4M593.0 44.8v9.4M589.6 46.2l6.6 6.6M589.6 52.9l6.6 -6.6M587.2 49.7h9.4M591.9 45.0v9.4M588.6 46.4l6.6 6.6M588.6 53.1l6.6 -6.6M587.5 49.7h9.4M592.2 45.0v9.4M588.9 46.4l6.6 6.6M588.9 53.0l6.6 -6.6M588.7 49.7h9.4M593.4 45.0v9.4M590.1 46.4l6.6 6.6M590.1 53.1l6.6 -6.6M588.9 48.9h9.4M593.6 44.2v9.4M590.3 45.6l6.6 6.6M590.3 52.3l6.6 -6.6M588.2 49.7h9.4M592.9 45.0v9.4M589.6 46.4l6.6 6.6M589.6 53.0l6.6 -6.6M588.5 49.0h9.4M593.2 44.3v9.4M589.9 45.6l6.6 6.6M589.9 52.3l6.6 -6.6M588.4 49.0h9.4M593.1 44.3v9.4M589.8 45.7l6.6 6.6M589.8 52.4l6.6 -6.6M589.0 48.9h9.4M593.7 44.2v9.4M590.4 45.5l6.6 6.6M590.4 52.2l6.6 -6.6M587.7 49.3h9.4M592.4 44.6v9.4M589.0 46.0l6.6 6.6M589.0 52.6l6.6 -6.6M587.8 49.0h9.4M592.5 44.3v9.4M589.2 45.7l6.6 6.6M589.2 52.4l6.6 -6.6M589.6 49.4h9.4M594.3 44.7v9.4M591.0 46.1l6.6 6.6M591.0 52.8l6.6 -6.6M588.6 48.2h9.4M593.3 43.5v9.4M590.0 44.8l6.6 6.6M590.0 51.5l6.6 -6.6M590.0 48.7h9.4M594.7 44.0v9.4M591.4 45.3l6.6 6.6M591.4 52.0l6.6 -6.6M588.9 49.1h9.4M593.6 44.4v9.4M590.3 45.8l6.6 6.6M590.3 52.4l6.6 -6.6M589.4 48.1h9.4M594.1 43.4v9.4M590.8 44.8l6.6 6.6M590.8 51.4l6.6 -6.6M590.1 48.3h9.4M594.8 43.6v9.4M591.4 44.9l6.6 6.6M591.4 51.6l6.6 -6.6M590.6 48.4h9.4M595.3 43.7v9.4M591.9 45.1l6.6 6.6M591.9 51.7l6.6 -6.6M591.0 48.9h9.4M595.7 44.2v9.4M592.4 45.6l6.6 6.6M592.4 52.3l6.6 -6.6M590.8 48.1h9.4M595.5 43.4v9.4M592.1 44.8l6.6 6.6M592.1 51.4l6.6 -6.6M589.3 48.2h9.4M594.0 43.5v9.4M590.7 44.8l6.6 6.6M590.7 51.5l6.6 -6.6M591.1 48.2h9.4M595.8 43.5v9.4M592.5 44.9l6.6 6.6M592.5 51.5l6.6 -6.6M590.7 48.0h9.4M595.4 43.3v9.4M592.1 44.7l6.6 6.6M592.1 51.3l6.6 -6.6M591.2 47.7h9.4M595.9 43.0v9.4M592.5 44.4l6.6 6.6M592.5 51.0l6.6 -6.6M590.7 48.4h9.4M595.4 43.7v9.4M592.0 45.1l6.6 6.6M592.0 51.7l6.6 -6.6M592.0 47.6h9.4M596.7 42.9v9.4M593.4 44.3l6.6 6.6M593.4 50.9l6.6 -6.6M592.8 47.8h9.4M597.5 43.1v9.4M594.1 44.5l6.6 6.6M594.1 51.2l6.6 -6.6M592.2 47.1h9.4M596.9 42.4v9.4M593.6 43.8l6.6 6.6M593.6 50.4l6.6 -6.6M592.6 46.9h9.4M597.3 42.2v9.4M594.0 43.6l6.6 6.6M594.0 50.2l6.6 -6.6M592.9 47.2h9.4M597.6 42.5v9.4M594.3 43.8l6.6 6.6M594.3 50.5l6.6 -6.6M593.0 47.5h9.4M597.7 42.8v9.4M594.4 44.1l6.6 6.6M594.4 50.8l6.6 -6.6M592.9 46.8h9.4M597.6 42.1v9.4M594.3 43.5l6.6 6.6M594.3 50.2l6.6 -6.6M593.1 47.5h9.4M597.8 42.8v9.4M594.5 44.2l6.6 6.6M594.5 50.8l6.6 -6.6M594.3 47.7h9.4M599.0 43.0v9.4M595.7 44.3l6.6 6.6M595.7 51.0l6.6 -6.6M594.0 46.6h9.4M598.7 41.9v9.4M595.4 43.3l6.6 6.6M595.4 50.0l6.6 -6.6M592.9 47.5h9.4M597.6 42.8v9.4M594.3 44.1l6.6 6.6M594.3 50.8l6.6 -6.6M593.4 46.1h9.4M598.1 41.4v9.4M594.8 42.7l6.6 6.6M594.8 49.4l6.6 -6.6M593.8 47.0h9.4M598.5 42.3v9.4M595.2 43.7l6.6 6.6M595.2 50.3l6.6 -6.6M593.3 47.1h9.4M598.0 42.4v9.4M594.7 43.8l6.6 6.6M594.7 50.4l6.6 -6.6M594.5 47.3h9.4M599.2 42.6v9.4M595.9 43.9l6.6 6.6M595.9 50.6l6.6 -6.6M594.2 46.5h9.4M598.9 41.8v9.4M595.6 43.1l6.6 6.6M595.6 49.8l6.6 -6.6M594.9 45.6h9.4M599.6 40.9v9.4M596.2 42.3l6.6 6.6M596.2 49.0l6.6 -6.6M595.0 46.0h9.4M599.7 41.3v9.4M596.4 42.7l6.6 6.6M596.4 49.3l6.6 -6.6M595.1 46.7h9.4M599.8 42.0v9.4M596.4 43.4l6.6 6.6M596.4 50.0l6.6 -6.6M594.7 45.8h9.4M599.4 41.1v9.4M596.0 42.4l6.6 6.6M596.0 49.1l6.6 -6.6M595.9 46.0h9.4M600.6 41.3v9.4M597.3 42.6l6.6 6.6M597.3 49.3l6.6 -6.6M596.6 46.0h9.4M601.3 41.3v9.4M598.0 42.7l6.6 6.6M598.0 49.3l6.6 -6.6M596.0 46.4h9.4M600.7 41.7v9.4M597.4 43.1l6.6 6.6M597.4 49.7l6.6 -6.6M596.1 46.4h9.4M600.8 41.7v9.4M597.5 43.1l6.6 6.6M597.5 49.7l6.6 -6.6M596.7 46.2h9.4M601.4 41.5v9.4M598.1 42.9l6.6 6.6M598.1 49.5l6.6 -6.6M596.5 45.5h9.4M601.2 40.8v9.4M597.9 42.2l6.6 6.6M597.9 48.8l6.6 -6.6M596.9 45.5h9.4M601.6 40.8v9.4M598.2 42.1l6.6 6.6M598.2 48.8l6.6 -6.6M596.6 46.0h9.4M601.3 41.3v9.4M597.9 42.6l6.6 6.6M597.9 49.3l6.6 -6.6M596.8 45.7h9.4M601.5 41.0v9.4M598.1 42.4l6.6 6.6M598.1 49.0l6.6 -6.6M597.7 45.3h9.4M602.4 40.6v9.4M599.1 42.0l6.6 6.6M599.1 48.6l6.6 -6.6M596.8 45.9h9.4M601.5 41.2v9.4M598.2 42.6l6.6 6.6M598.2 49.2l6.6 -6.6M596.6 44.9h9.4M601.3 40.2v9.4M598.0 41.6l6.6 6.6M598.0 48.2l6.6 -6.6M597.2 45.0h9.4M601.9 40.3v9.4M598.6 41.7l6.6 6.6M598.6 48.4l6.6 -6.6M597.8 45.3h9.4M602.5 40.6v9.4M599.2 42.0l6.6 6.6M599.2 48.6l6.6 -6.6M598.7 44.7h9.4M603.4 40.0v9.4M600.0 41.3l6.6 6.6M600.0 48.0l6.6 -6.6M598.5 44.9h9.4M603.2 40.2v9.4M599.8 41.6l6.6 6.6M599.8 48.2l6.6 -6.6M596.6 45.2h9.4M601.3 40.5v9.4M598.0 41.9l6.6 6.6M598.0 48.5l6.6 -6.6M598.9 44.6h9.4M603.6 39.9v9.4M600.3 41.3l6.6 6.6M600.3 47.9l6.6 -6.6M598.7 45.2h9.4M603.4 40.5v9.4M600.1 41.8l6.6 6.6M600.1 48.5l6.6 -6.6M598.3 44.9h9.4M603.0 40.2v9.4M599.7 41.6l6.6 6.6M599.7 48.2l6.6 -6.6M599.2 44.8h9.4M603.9 40.1v9.4M600.6 41.5l6.6 6.6M600.6 48.1l6.6 -6.6M598.7 44.5h9.4M603.4 39.8v9.4M600.0 41.2l6.6 6.6M600.0 47.9l6.6 -6.6M599.2 44.8h9.4M603.9 40.1v9.4M600.6 41.5l6.6 6.6M600.6 48.1l6.6 -6.6M599.2 43.6h9.4M603.9 38.9v9.4M600.6 40.3l6.6 6.6M600.6 46.9l6.6 -6.6M598.7 45.0h9.4M603.4 40.3v9.4M600.1 41.7l6.6 6.6M600.1 48.3l6.6 -6.6M599.2 44.0h9.4M603.9 39.3v9.4M600.6 40.7l6.6 6.6M600.6 47.3l6.6 -6.6M601.0 43.7h9.4M605.7 39.0v9.4M602.3 40.4l6.6 6.6M602.3 47.1l6.6 -6.6M599.7 43.0h9.4M604.4 38.3v9.4M601.1 39.7l6.6 6.6M601.1 46.3l6.6 -6.6M600.7 43.9h9.4M605.4 39.2v9.4M602.1 40.6l6.6 6.6M602.1 47.3l6.6 -6.6M600.4 43.7h9.4M605.1 39.0v9.4M601.7 40.4l6.6 6.6M601.7 47.0l6.6 -6.6M599.6 43.4h9.4M604.3 38.7v9.4M600.9 40.1l6.6 6.6M600.9 46.7l6.6 -6.6M600.8 42.8h9.4M605.5 38.1v9.4M602.2 39.5l6.6 6.6M602.2 46.1l6.6 -6.6M601.6 44.0h9.4M606.3 39.3v9.4M603.0 40.7l6.6 6.6M603.0 47.4l6.6 -6.6M600.8 43.2h9.4M605.5 38.5v9.4M602.2 39.9l6.6 6.6M602.2 46.5l6.6 -6.6M601.4 42.9h9.4M606.1 38.2v9.4M602.8 39.6l6.6 6.6M602.8 46.3l6.6 -6.6M600.6 43.1h9.4M605.3 38.4v9.4M602.0 39.8l6.6 6.6M602.0 46.4l6.6 -6.6M602.1 43.3h9.4M606.8 38.6v9.4M603.5 40.0l6.6 6.6M603.5 46.6l6.6 -6.6M601.9 43.3h9.4M606.6 38.6v9.4M603.3 40.0l6.6 6.6M603.3 46.6l6.6 -6.6M601.9 43.6h9.4M606.6 38.9v9.4M603.3 40.3l6.6 6.6M603.3 46.9l6.6 -6.6M602.7 43.2h9.4M607.4 38.5v9.4M604.1 39.9l6.6 6.6M604.1 46.6l6.6 -6.6M603.7 42.3h9.4M608.4 37.6v9.4M605.0 38.9l6.6 6.6M605.0 45.6l6.6 -6.6M603.5 43.0h9.4M608.2 38.3v9.4M604.8 39.7l6.6 6.6M604.8 46.3l6.6 -6.6M602.9 43.6h9.4M607.6 38.9v9.4M604.3 40.2l6.6 6.6M604.3 46.9l6.6 -6.6M601.8 42.1h9.4M606.5 37.4v9.4M603.2 38.8l6.6 6.6M603.2 45.4l6.6 -6.6M602.5 42.3h9.4M607.2 37.6v9.4M603.9 39.0l6.6 6.6M603.9 45.7l6.6 -6.6M603.8 43.2h9.4M608.5 38.5v9.4M605.2 39.9l6.6 6.6M605.2 46.5l6.6 -6.6M602.3 42.5h9.4M607.0 37.8v9.4M603.7 39.1l6.6 6.6M603.7 45.8l6.6 -6.6M603.5 42.6h9.4M608.2 37.9v9.4M604.9 39.2l6.6 6.6M604.9 45.9l6.6 -6.6M603.9 41.7h9.4M608.6 37.0v9.4M605.3 38.4l6.6 6.6M605.3 45.0l6.6 -6.6M604.4 42.5h9.4M609.1 37.8v9.4M605.8 39.2l6.6 6.6M605.8 45.8l6.6 -6.6M605.0 40.8h9.4M609.7 36.1v9.4M606.4 37.5l6.6 6.6M606.4 44.2l6.6 -6.6M606.2 41.0h9.4M610.9 36.3v9.4M607.5 37.7l6.6 6.6M607.5 44.4l6.6 -6.6M604.9 42.3h9.4M609.6 37.6v9.4M606.3 39.0l6.6 6.6M606.3 45.6l6.6 -6.6M605.3 41.2h9.4M610.0 36.5v9.4M606.7 37.9l6.6 6.6M606.7 44.5l6.6 -6.6M605.8 42.6h9.4M610.5 37.9v9.4M607.2 39.3l6.6 6.6M607.2 45.9l6.6 -6.6M604.8 41.9h9.4M609.5 37.2v9.4M606.1 38.5l6.6 6.6M606.1 45.2l6.6 -6.6M605.3 41.1h9.4M610.0 36.4v9.4M606.7 37.8l6.6 6.6M606.7 44.5l6.6 -6.6M604.5 40.7h9.4M609.2 36.0v9.4M605.9 37.3l6.6 6.6M605.9 44.0l6.6 -6.6M605.4 41.7h9.4M610.1 37.0v9.4M606.8 38.4l6.6 6.6M606.8 45.0l6.6 -6.6M606.7 42.1h9.4M611.4 37.4v9.4M608.1 38.8l6.6 6.6M608.1 45.4l6.6 -6.6M605.7 41.6h9.4M610.4 36.9v9.4M607.1 38.2l6.6 6.6M607.1 44.9l6.6 -6.6M606.6 40.5h9.4M611.3 35.8v9.4M608.0 37.2l6.6 6.6M608.0 43.9l6.6 -6.6M607.0 40.0h9.4M611.7 35.3v9.4M608.4 36.7l6.6 6.6M608.4 43.4l6.6 -6.6M606.7 41.7h9.4M611.4 37.0v9.4M608.1 38.3l6.6 6.6M608.1 45.0l6.6 -6.6M607.3 40.8h9.4M612.0 36.1v9.4M608.7 37.5l6.6 6.6M608.7 44.2l6.6 -6.6M607.0 41.4h9.4M611.7 36.7v9.4M608.4 38.1l6.6 6.6M608.4 44.8l6.6 -6.6M607.1 40.2h9.4M611.8 35.5v9.4M608.4 36.9l6.6 6.6M608.4 43.5l6.6 -6.6M607.3 40.2h9.4M612.0 35.5v9.4M608.6 36.9l6.6 6.6M608.6 43.5l6.6 -6.6M606.8 40.5h9.4M611.5 35.8v9.4M608.1 37.2l6.6 6.6M608.1 43.8l6.6 -6.6M608.6 40.5h9.4M613.3 35.8v9.4M610.0 37.2l6.6 6.6M610.0 43.8l6.6 -6.6M608.3 40.1h9.4M613.0 35.4v9.4M609.7 36.8l6.6 6.6M609.7 43.4l6.6 -6.6M607.8 41.2h9.4M612.5 36.5v9.4M609.2 37.8l6.6 6.6M609.2 44.5l6.6 -6.6M608.9 40.7h9.4M613.6 36.0v9.4M610.2 37.4l6.6 6.6M610.2 44.1l6.6 -6.6M609.1 39.7h9.4M613.8 35.0v9.4M610.5 36.3l6.6 6.6M610.5 43.0l6.6 -6.6M608.9 41.5h9.4M613.6 36.8v9.4M610.3 38.2l6.6 6.6M610.3 44.9l6.6 -6.6M608.6 40.5h9.4M613.3 35.8v9.4M609.9 37.2l6.6 6.6M609.9 43.9l6.6 -6.6M608.3 40.6h9.4M613.0 35.9v9.4M609.7 37.3l6.6 6.6M609.7 43.9l6.6 -6.6M609.1 40.3h9.4M613.8 35.6v9.4M610.5 37.0l6.6 6.6M610.5 43.7l6.6 -6.6M609.3 40.3h9.4M614.0 35.6v9.4M610.7 37.0l6.6 6.6M610.7 43.6l6.6 -6.6M609.7 40.4h9.4M614.4 35.7v9.4M611.1 37.1l6.6 6.6M611.1 43.7l6.6 -6.6M610.4 39.8h9.4M615.1 35.1v9.4M611.7 36.4l6.6 6.6M611.7 43.1l6.6 -6.6M610.0 40.5h9.4M614.7 35.8v9.4M611.4 37.2l6.6 6.6M611.4 43.8l6.6 -6.6M610.7 39.0h9.4M615.4 34.3v9.4M612.0 35.7l6.6 6.6M612.0 42.4l6.6 -6.6M610.8 40.4h9.4M615.5 35.7v9.4M612.2 37.1l6.6 6.6M612.2 43.8l6.6 -6.6M611.6 39.7h9.4M616.3 35.0v9.4M613.0 36.4l6.6 6.6M613.0 43.0l6.6 -6.6M610.2 40.0h9.4M614.9 35.3v9.4M611.6 36.7l6.6 6.6M611.6 43.3l6.6 -6.6M610.2 39.2h9.4M614.9 34.5v9.4M611.5 35.9l6.6 6.6M611.5 42.5l6.6 -6.6M611.5 39.3h9.4M616.2 34.6v9.4M612.9 36.0l6.6 6.6M612.9 42.7l6.6 -6.6M611.6 39.3h9.4M616.3 34.6v9.4M613.0 36.0l6.6 6.6M613.0 42.6l6.6 -6.6M610.9 39.7h9.4M615.6 35.0v9.4M612.3 36.4l6.6 6.6M612.3 43.0l6.6 -6.6M611.5 38.4h9.4M616.2 33.7v9.4M612.9 35.1l6.6 6.6M612.9 41.7l6.6 -6.6M611.2 38.0h9.4M615.9 33.3v9.4M612.6 34.7l6.6 6.6M612.6 41.3l6.6 -6.6M611.6 38.0h9.4M616.3 33.3v9.4M613.0 34.7l6.6 6.6M613.0 41.4l6.6 -6.6M612.1 38.4h9.4M616.8 33.7v9.4M613.4 35.1l6.6 6.6M613.4 41.7l6.6 -6.6M612.4 39.3h9.4M617.1 34.6v9.4M613.7 36.0l6.6 6.6M613.7 42.7l6.6 -6.6M613.9 38.2h9.4M618.6 33.5v9.4M615.3 34.9l6.6 6.6M615.3 41.5l6.6 -6.6M613.6 38.6h9.4M618.3 33.9v9.4M615.0 35.2l6.6 6.6M615.0 41.9l6.6 -6.6M612.5 37.8h9.4M617.2 33.1v9.4M613.9 34.5l6.6 6.6M613.9 41.1l6.6 -6.6M613.8 38.4h9.4M618.5 33.7v9.4M615.1 35.1l6.6 6.6M615.1 41.7l6.6 -6.6M612.4 38.3h9.4M617.1 33.6v9.4M613.8 35.0l6.6 6.6M613.8 41.6l6.6 -6.6M612.9 37.2h9.4M617.6 32.5v9.4M614.3 33.9l6.6 6.6M614.3 40.5l6.6 -6.6M613.6 36.1h9.4M618.3 31.4v9.4M615.0 32.8l6.6 6.6M615.0 39.4l6.6 -6.6M613.4 38.6h9.4M618.1 33.9v9.4M614.7 35.3l6.6 6.6M614.7 41.9l6.6 -6.6M614.3 37.5h9.4M619.0 32.8v9.4M615.7 34.2l6.6 6.6M615.7 40.9l6.6 -6.6M614.1 37.3h9.4M618.8 32.6v9.4M615.5 34.0l6.6 6.6M615.5 40.7l6.6 -6.6M614.1 37.7h9.4M618.8 33.0v9.4M615.4 34.4l6.6 6.6M615.4 41.0l6.6 -6.6M614.2 36.8h9.4M618.9 32.1v9.4M615.6 33.4l6.6 6.6M615.6 40.1l6.6 -6.6M614.6 37.7h9.4M619.3 33.0v9.4M616.0 34.4l6.6 6.6M616.0 41.0l6.6 -6.6M614.9 37.1h9.4M619.6 32.4v9.4M616.3 33.8l6.6 6.6M616.3 40.4l6.6 -6.6M613.6 37.0h9.4M618.3 32.3v9.4M615.0 33.7l6.6 6.6M615.0 40.4l6.6 -6.6M616.3 36.2h9.4M621.0 31.5v9.4M617.6 32.9l6.6 6.6M617.6 39.6l6.6 -6.6M614.9 35.6h9.4M619.6 30.9v9.4M616.2 32.3l6.6 6.6M616.2 39.0l6.6 -6.6M616.5 37.6h9.4M621.2 32.9v9.4M617.9 34.2l6.6 6.6M617.9 40.9l6.6 -6.6M616.6 37.6h9.4M621.3 32.9v9.4M617.9 34.3l6.6 6.6M617.9 40.9l6.6 -6.6M616.1 36.7h9.4M620.8 32.0v9.4M617.4 33.3l6.6 6.6M617.4 40.0l6.6 -6.6M614.6 36.2h9.4M619.3 31.5v9.4M616.0 32.9l6.6 6.6M616.0 39.5l6.6 -6.6M617.6 36.6h9.4M622.3 31.9v9.4M619.0 33.3l6.6 6.6M619.0 39.9l6.6 -6.6M616.5 37.6h9.4M621.2 32.9v9.4M617.8 34.3l6.6 6.6M617.8 40.9l6.6 -6.6M616.7 36.3h9.4M621.4 31.6v9.4M618.1 33.0l6.6 6.6M618.1 39.6l6.6 -6.6M617.4 36.8h9.4M622.1 32.1v9.4M618.8 33.5l6.6 6.6M618.8 40.1l6.6 -6.6M616.6 36.5h9.4M621.3 31.8v9.4M618.0 33.2l6.6 6.6M618.0 39.8l6.6 -6.6M616.6 36.4h9.4M621.3 31.7v9.4M618.0 33.1l6.6 6.6M618.0 39.7l6.6 -6.6M617.0 35.6h9.4M621.7 30.9v9.4M618.4 32.3l6.6 6.6M618.4 38.9l6.6 -6.6M615.9 36.1h9.4M620.6 31.4v9.4M617.3 32.7l6.6 6.6M617.3 39.4l6.6 -6.6M617.1 36.8h9.4M621.8 32.1v9.4M618.5 33.5l6.6 6.6M618.5 40.1l6.6 -6.6M617.5 36.0h9.4M622.2 31.3v9.4M618.8 32.7l6.6 6.6M618.8 39.3l6.6 -6.6M618.0 36.0h9.4M622.7 31.3v9.4M619.4 32.6l6.6 6.6M619.4 39.3l6.6 -6.6M617.3 35.6h9.4M622.0 30.9v9.4M618.6 32.3l6.6 6.6M618.6 39.0l6.6 -6.6M618.7 36.0h9.4M623.4 31.3v9.4M620.1 32.7l6.6 6.6M620.1 39.3l6.6 -6.6M619.2 36.4h9.4M623.9 31.7v9.4M620.6 33.1l6.6 6.6M620.6 39.7l6.6 -6.6M618.6 34.9h9.4M623.3 30.2v9.4M620.0 31.6l6.6 6.6M620.0 38.2l6.6 -6.6M618.0 34.2h9.4M622.7 29.5v9.4M619.4 30.8l6.6 6.6M619.4 37.5l6.6 -6.6M618.8 36.0h9.4M623.5 31.3v9.4M620.2 32.7l6.6 6.6M620.2 39.3l6.6 -6.6M617.8 36.6h9.4M622.5 31.9v9.4M619.2 33.2l6.6 6.6M619.2 39.9l6.6 -6.6M618.9 35.4h9.4M623.6 30.7v9.4M620.2 32.1l6.6 6.6M620.2 38.7l6.6 -6.6M619.4 35.5h9.4M624.1 30.8v9.4M620.8 32.2l6.6 6.6M620.8 38.8l6.6 -6.6M619.0 35.5h9.4M623.7 30.8v9.4M620.4 32.2l6.6 6.6M620.4 38.8l6.6 -6.6M619.9 35.8h9.4M624.6 31.1v9.4M621.2 32.5l6.6 6.6M621.2 39.2l6.6 -6.6M620.3 35.8h9.4M625.0 31.1v9.4M621.7 32.4l6.6 6.6M621.7 39.1l6.6 -6.6M619.8 35.9h9.4M624.5 31.2v9.4M621.2 32.6l6.6 6.6M621.2 39.3l6.6 -6.6M620.8 35.8h9.4M625.5 31.1v9.4M622.1 32.5l6.6 6.6M622.1 39.1l6.6 -6.6M620.0 34.5h9.4M624.7 29.8v9.4M621.3 31.2l6.6 6.6M621.3 37.9l6.6 -6.6" stroke="#ff0000" stroke-width="1.1" fill="none"/>
<path d="M398.3 136.8h8.6M402.6 132.5v8.6M424.9 122.5h8.6M429.2 118.2v8.6M428.9 122.5h8.6M433.2 118.2v8.6M440.4 116.0h8.6M444.7 111.7v8.6M466.7 108.7h8.6M471.0 104.4v8.6M473.9 100.8h8.6M478.2 96.5v8.6M506.5 86.8h8.6M510.8 82.5v8.6M524.9 78.3h8.6M529.2 74.0v8.6M527.2 77.8h8.6M531.5 73.5v8.6M529.8 75.8h8.6M534.1 71.5v8.6M560.1 62.7h8.6M564.4 58.4v8.6M562.0 62.2h8.6M566.3 57.9v8.6M564.0 60.6h8.6M568.3 56.3v8.6M444.3 114.2h8.6M448.6 109.9v8.6M444.9 113.9h8.6M449.2 109.6v8.6M444.5 113.0h8.6M448.8 108.7v8.6M444.5 112.4h8.6M448.8 108.1v8.6M446.0 112.7h8.6M450.3 108.4v8.6M445.7 112.8h8.6M450.0 108.5v8.6M447.3 112.8h8.6M451.6 108.5v8.6M446.3 113.6h8.6M450.6 109.3v8.6M447.7 112.1h8.6M452.0 107.8v8.6M448.6 112.3h8.6M452.9 108.0v8.6M447.6 112.0h8.6M451.9 107.7v8.6M448.9 111.8h8.6M453.2 107.5v8.6M449.6 112.0h8.6M453.9 107.7v8.6M450.5 110.4h8.6M454.8 106.1v8.6M450.7 111.4h8.6M455.0 107.1v8.6M451.6 110.6h8.6M455.9 106.3v8.6M451.7 110.8h8.6M456.0 106.5v8.6M450.9 109.8h8.6M455.2 105.5v8.6M452.5 110.3h8.6M456.8 106.0v8.6M452.8 110.2h8.6M457.1 105.9v8.6M453.6 109.4h8.6M457.9 105.1v8.6M455.4 109.5h8.6M459.7 105.2v8.6M454.8 109.2h8.6M459.1 104.9v8.6M455.6 109.1h8.6M459.9 104.8v8.6M452.8 108.9h8.6M457.1 104.6v8.6M455.0 109.0h8.6M459.3 104.7v8.6M456.7 108.5h8.6M461.0 104.2v8.6M456.5 108.6h8.6M460.8 104.3v8.6M457.6 108.9h8.6M461.9 104.6v8.6M457.4 108.9h8.6M461.7 104.6v8.6M457.2 108.1h8.6M461.5 103.8v8.6M458.4 108.3h8.6M462.7 104.0v8.6M458.8 108.2h8.6M463.1 103.9v8.6M459.5 106.9h8.6M463.8 102.6v8.6M478.7 99.3h8.6M483.0 95.0v8.6M477.7 98.5h8.6M482.0 94.2v8.6M477.8 98.2h8.6M482.1 93.9v8.6M479.9 98.5h8.6M484.2 94.2v8.6M480.4 98.3h8.6M484.7 94.0v8.6M480.0 97.2h8.6M484.3 92.9v8.6M481.9 97.2h8.6M486.2 92.9v8.6M481.6 96.9h8.6M485.9 92.6v8.6M481.6 96.5h8.6M485.9 92.2v8.6M483.8 96.6h8.6M488.1 92.3v8.6M483.8 96.8h8.6M488.1 92.5v8.6M483.4 96.3h8.6M487.7 92.0v8.6M483.8 95.5h8.6M488.1 91.2v8.6M484.7 96.0h8.6M489.0 91.7v8.6M485.4 94.6h8.6M489.7 90.3v8.6M486.0 95.5h8.6M490.3 91.2v8.6M486.7 94.8h8.6M491.0 90.5v8.6M489.0 95.0h8.6M493.3 90.7v8.6M487.6 94.5h8.6M491.9 90.2v8.6M488.6 93.8h8.6M492.9 89.5v8.6M488.9 93.4h8.6M493.2 89.1v8.6M490.0 92.7h8.6M494.3 88.4v8.6M491.9 92.4h8.6M496.2 88.1v8.6M490.5 93.9h8.6M494.8 89.6v8.6M491.6 92.6h8.6M495.9 88.3v8.6M491.6 92.8h8.6M495.9 88.5v8.6M493.0 92.1h8.6M497.3 87.8v8.6M494.9 92.3h8.6M499.2 88.0v8.6M493.5 92.6h8.6M497.8 88.3v8.6M495.1 92.1h8.6M499.4 87.8v8.6M495.6 92.4h8.6M499.9 88.1v8.6M496.1 91.6h8.6M500.4 87.3v8.6M496.2 91.1h8.6M500.5 86.8v8.6M497.2 90.2h8.6M501.5 85.9v8.6M497.4 91.9h8.6M501.7 87.6v8.6M498.7 90.7h8.6M503.0 86.4v8.6M499.1 90.0h8.6M503.4 85.7v8.6M499.2 89.9h8.6M503.5 85.6v8.6M532.6 74.2h8.6M536.9 69.9v8.6M533.2 74.4h8.6M537.5 70.1v8.6M532.1 73.9h8.6M536.4 69.6v8.6M534.6 73.2h8.6M538.9 68.9v8.6M534.3 73.8h8.6M538.6 69.5v8.6M534.8 73.3h8.6M539.1 69.0v8.6M535.9 72.4h8.6M540.2 68.1v8.6M536.5 72.7h8.6M540.8 68.4v8.6M536.1 72.6h8.6M540.4 68.3v8.6M537.6 72.3h8.6M541.9 68.0v8.6M539.1 71.3h8.6M543.4 67.0v8.6M537.7 72.4h8.6M542.0 68.1v8.6M538.0 71.5h8.6M542.3 67.2v8.6M539.1 72.2h8.6M543.4 67.9v8.6M538.7 71.7h8.6M543.0 67.4v8.6M540.0 71.1h8.6M544.3 66.8v8.6M541.4 70.9h8.6M545.7 66.6v8.6M540.9 70.7h8.6M545.2 66.4v8.6M540.3 70.0h8.6M544.6 65.7v8.6M542.1 70.1h8.6M546.4 65.8v8.6M542.9 70.5h8.6M547.2 66.2v8.6M541.6 69.7h8.6M545.9 65.4v8.6M542.8 70.6h8.6M547.1 66.3v8.6M543.8 69.4h8.6M548.1 65.1v8.6M544.1 68.9h8.6M548.4 64.6v8.6M545.1 68.9h8.6M549.4 64.6v8.6M543.9 68.3h8.6M548.2 64.0v8.6M545.5 68.8h8.6M549.8 64.5v8.6M546.2 68.3h8.6M550.5 64.0v8.6M546.9 68.5h8.6M551.2 64.2v8.6M547.7 68.0h8.6M552.0 63.7v8.6M549.5 67.6h8.6M553.8 63.3v8.6M547.9 67.8h8.6M552.2 63.5v8.6M549.5 67.9h8.6M553.8 63.6v8.6M548.8 67.4h8.6M553.1 63.1v8.6M549.6 68.2h8.6M553.9 63.9v8.6M550.3 66.7h8.6M554.6 62.4v8.6M550.9 67.1h8.6M555.2 62.8v8.6M551.7 66.3h8.6M556.0 62.0v8.6M551.7 66.4h8.6M556.0 62.1v8.6M552.7 65.8h8.6M557.0 61.5v8.6M553.4 66.3h8.6M557.7 62.0v8.6M553.8 66.2h8.6M558.1 61.9v8.6M553.8 64.4h8.6M558.1 60.1v8.6M554.4 64.9h8.6M558.7 60.6v8.6M566.3 60.1h8.6M570.6 55.8v8.6M565.5 58.8h8.6M569.8 54.5v8.6M566.3 59.0h8.6M570.6 54.7v8.6M567.5 59.8h8.6M571.8 55.5v8.6M567.1 59.5h8.6M571.4 55.2v8.6M567.2 57.9h8.6M571.5 53.6v8.6M568.2 59.8h8.6M572.5 55.5v8.6M569.3 58.0h8.6M573.6 53.7v8.6M569.5 58.3h8.6M573.8 54.0v8.6M569.1 57.9h8.6M573.4 53.6v8.6M569.2 58.5h8.6M573.5 54.2v8.6M570.2 58.8h8.6M574.5 54.5v8.6M570.3 58.3h8.6M574.6 54.0v8.6M569.8 58.8h8.6M574.1 54.5v8.6M569.9 58.5h8.6M574.2 54.2v8.6M571.7 57.4h8.6M576.0 53.1v8.6M571.1 57.2h8.6M575.4 52.9v8.6M571.2 57.7h8.6M575.5 53.4v8.6M571.6 57.6h8.6M575.9 53.3v8.6M571.3 57.3h8.6M575.6 53.0v8.6M573.0 56.5h8.6M577.3 52.2v8.6M572.3 55.5h8.6M576.6 51.2v8.6M573.0 57.2h8.6M577.3 52.9v8.6M574.1 57.0h8.6M578.4 52.7v8.6M574.1 56.4h8.6M578.4 52.1v8.6M574.8 56.0h8.6M579.1 51.7v8.6M575.0 56.3h8.6M579.3 52.0v8.6M573.6 56.1h8.6M577.9 51.8v8.6M574.7 55.3h8.6M579.0 51.0v8.6M574.6 56.1h8.6M578.9 51.8v8.6M576.2 56.3h8.6M580.5 52.0v8.6M574.6 55.4h8.6M578.9 51.1v8.6M576.6 55.2h8.6M580.9 50.9v8.6M576.1 55.2h8.6M580.4 50.9v8.6M576.4 55.6h8.6M580.7 51.3v8.6M577.6 54.8h8.6M581.9 50.5v8.6M577.7 53.6h8.6M582.0 49.3v8.6M578.0 54.0h8.6M582.3 49.7v8.6M578.9 53.7h8.6M583.2 49.4v8.6M578.2 55.3h8.6M582.5 51.0v8.6M579.1 53.7h8.6M583.4 49.4v8.6M578.0 53.7h8.6M582.3 49.4v8.6M578.8 53.8h8.6M583.1 49.5v8.6M579.3 54.2h8.6M583.6 49.9v8.6M580.2 54.2h8.6M584.5 49.9v8.6M579.6 52.5h8.6M583.9 48.2v8.6M579.8 53.0h8.6M584.1 48.7v8.6M580.4 52.0h8.6M584.7 47.7v8.6M581.4 52.0h8.6M585.7 47.7v8.6M579.6 52.5h8.6M583.9 48.2v8.6M582.4 52.3h8.6M586.7 48.0v8.6M582.0 52.4h8.6M586.3 48.1v8.6M581.9 52.5h8.6M586.2 48.2v8.6M582.1 52.3h8.6M586.4 48.0v8.6M582.3 52.3h8.6M586.6 48.0v8.6M581.5 52.9h8.6M585.8 48.6v8.6M584.1 51.9h8.6M588.4 47.6v8.6M583.6 52.3h8.6M587.9 48.0v8.6M584.0 51.0h8.6M588.3 46.7v8.6M583.6 51.2h8.6M587.9 46.9v8.6M583.4 52.1h8.6M587.7 47.8v8.6M582.7 50.8h8.6M587.0 46.5v8.6M584.9 53.0h8.6M589.2 48.7v8.6M585.5 52.3h8.6M589.8 48.0v8.6M584.2 50.4h8.6M588.5 46.1v8.6M582.7 51.6h8.6M587.0 47.3v8.6M584.3 51.8h8.6M588.6 47.5v8.6M585.3 51.3h8.6M589.6 47.0v8.6M585.0 51.5h8.6M589.3 47.2v8.6M585.3 51.8h8.6M589.6 47.5v8.6M586.2 50.7h8.6M590.5 46.4v8.6M586.1 50.9h8.6M590.4 46.6v8.6M585.2 50.2h8.6M589.5 45.9v8.6M586.6 50.8h8.6M590.9 46.5v8.6M585.1 50.4h8.6M589.4 46.1v8.6M586.1 49.8h8.6M590.4 45.5v8.6M585.7 50.5h8.6M590.0 46.2v8.6M587.1 50.1h8.6M591.4 45.8v8.6M586.6 49.2h8.6M590.9 44.9v8.6M586.6 50.8h8.6M590.9 46.5v8.6M587.7 50.7h8.6M592.0 46.4v8.6M588.5 49.7h8.6M592.8 45.4v8.6M587.9 50.8h8.6M592.2 46.5v8.6M588.6 49.2h8.6M592.9 44.9v8.6M588.3 50.0h8.6M592.6 45.7v8.6M588.7 49.5h8.6M593.0 45.2v8.6M589.2 49.3h8.6M593.5 45.0v8.6M588.5 49.0h8.6M592.8 44.7v8.6M589.2 50.1h8.6M593.5 45.8v8.6M589.2 49.7h8.6M593.5 45.4v8.6M588.1 49.0h8.6M592.4 44.7v8.6M588.2 49.2h8.6M592.5 44.9v8.6M589.7 48.8h8.6M594.0 44.5v8.6M588.6 49.5h8.6M592.9 45.2v8.6M589.6 48.7h8.6M593.9 44.4v8.6M589.8 48.0h8.6M594.1 43.7v8.6M590.2 49.6h8.6M594.5 45.3v8.6M590.0 49.0h8.6M594.3 44.7v8.6M590.4 49.3h8.6M594.7 45.0v8.6M591.6 48.2h8.6M595.9 43.9v8.6M590.7 48.1h8.6M595.0 43.8v8.6M590.8 48.5h8.6M595.1 44.2v8.6M590.6 48.7h8.6M594.9 44.4v8.6M592.0 48.7h8.6M596.3 44.4v8.6M591.2 48.4h8.6M595.5 44.1v8.6M591.7 47.2h8.6M596.0 42.9v8.6M590.5 48.3h8.6M594.8 44.0v8.6M591.5 46.7h8.6M595.8 42.4v8.6M592.9 48.3h8.6M597.2 44.0v8.6M591.9 47.9h8.6M596.2 43.6v8.6M592.7 48.9h8.6M597.0 44.6v8.6M592.7 48.1h8.6M597.0 43.8v8.6M593.7 47.1h8.6M598.0 42.8v8.6M593.1 47.9h8.6M597.4 43.6v8.6M594.3 47.1h8.6M598.6 42.8v8.6M592.6 48.1h8.6M596.9 43.8v8.6M593.6 46.6h8.6M597.9 42.3v8.6M592.4 46.0h8.6M596.7 41.7v8.6M594.0 47.2h8.6M598.3 42.9v8.6M593.9 47.8h8.6M598.2 43.5v8.6M594.4 48.0h8.6M598.7 43.7v8.6M595.0 46.1h8.6M599.3 41.8v8.6M594.8 47.1h8.6M599.1 42.8v8.6M595.5 44.5h8.6M599.8 40.2v8.6M594.8 47.4h8.6M599.1 43.1v8.6M596.3 46.5h8.6M600.6 42.2v8.6M595.0 46.2h8.6M599.3 41.9v8.6M595.7 47.4h8.6M600.0 43.1v8.6M596.1 46.8h8.6M600.4 42.5v8.6M596.5 45.7h8.6M600.8 41.4v8.6M596.0 46.3h8.6M600.3 42.0v8.6M596.9 47.2h8.6M601.2 42.9v8.6M597.9 45.8h8.6M602.2 41.5v8.6M596.6 45.6h8.6M600.9 41.3v8.6M597.6 45.9h8.6M601.9 41.6v8.6M597.9 43.9h8.6M602.2 39.6v8.6M596.7 45.1h8.6M601.0 40.8v8.6M597.5 47.1h8.6M601.8 42.8v8.6M598.7 47.1h8.6M603.0 42.8v8.6M597.1 47.1h8.6M601.4 42.8v8.6M597.8 44.8h8.6M602.1 40.5v8.6M597.0 45.7h8.6M601.3 41.4v8.6M598.1 44.9h8.6M602.4 40.6v8.6M598.2 45.0h8.6M602.5 40.7v8.6M598.9 45.9h8.6M603.2 41.6v8.6M599.2 45.0h8.6M603.5 40.7v8.6M599.3 45.9h8.6M603.6 41.6v8.6M599.6 43.9h8.6M603.9 39.6v8.6M599.1 43.1h8.6M603.4 38.8v8.6M599.1 45.9h8.6M603.4 41.6v8.6M599.1 42.9h8.6M603.4 38.6v8.6M600.6 43.7h8.6M604.9 39.4v8.6M599.9 44.7h8.6M604.2 40.4v8.6M600.6 43.7h8.6M604.9 39.4v8.6M600.5 43.5h8.6M604.8 39.2v8.6M600.5 43.8h8.6M604.8 39.5v8.6M600.6 43.6h8.6M604.9 39.3v8.6M601.4 44.8h8.6M605.7 40.5v8.6M601.7 43.7h8.6M606.0 39.4v8.6M600.7 44.0h8.6M605.0 39.7v8.6M600.6 43.4h8.6M604.9 39.1v8.6M602.2 42.9h8.6M606.5 38.6v8.6M601.3 44.5h8.6M605.6 40.2v8.6M602.3 43.5h8.6M606.6 39.2v8.6M603.1 42.8h8.6M607.4 38.5v8.6M602.0 43.3h8.6M606.3 39.0v8.6M603.4 45.0h8.6M607.7 40.7v8.6M602.3 43.1h8.6M606.6 38.8v8.6M602.2 41.9h8.6M606.5 37.6v8.6M604.7 45.9h8.6M609.0 41.6v8.6M602.8 42.9h8.6M607.1 38.6v8.6M603.1 42.5h8.6M607.4 38.2v8.6M603.2 42.6h8.6M607.5 38.3v8.6M603.8 41.6h8.6M608.1 37.3v8.6M604.2 43.6h8.6M608.5 39.3v8.6M604.4 42.8h8.6M608.7 38.5v8.6M604.9 42.4h8.6M609.2 38.1v8.6M604.5 42.4h8.6M608.8 38.1v8.6M604.5 41.7h8.6M608.8 37.4v8.6M604.8 44.8h8.6M609.1 40.5v8.6M605.5 41.5h8.6M609.8 37.2v8.6M605.2 42.2h8.6M609.5 37.9v8.6M605.3 43.9h8.6M609.6 39.6v8.6M605.3 42.4h8.6M609.6 38.1v8.6M606.0 41.7h8.6M610.3 37.4v8.6M604.8 41.7h8.6M609.1 37.4v8.6M605.8 41.1h8.6M610.1 36.8v8.6M606.3 41.1h8.6M610.6 36.8v8.6M607.1 41.6h8.6M611.4 37.3v8.6M606.3 42.0h8.6M610.6 37.7v8.6M607.6 40.4h8.6M611.9 36.1v8.6M607.8 42.5h8.6M612.1 38.2v8.6M606.5 41.0h8.6M610.8 36.7v8.6M606.6 41.0h8.6M610.9 36.7v8.6M607.0 42.2h8.6M611.3 37.9v8.6M607.0 42.1h8.6M611.3 37.8v8.6M608.1 40.5h8.6M612.4 36.2v8.6M608.2 40.6h8.6M612.5 36.3v8.6M608.6 41.1h8.6M612.9 36.8v8.6M609.0 40.6h8.6M613.3 36.3v8.6M608.7 39.3h8.6M613.0 35.0v8.6M608.8 41.9h8.6M613.1 37.6v8.6M609.0 40.7h8.6M613.3 36.4v8.6M609.0 41.5h8.6M613.3 37.2v8.6M610.4 41.2h8.6M614.7 36.9v8.6M609.0 41.4h8.6M613.3 37.1v8.6M608.9 40.2h8.6M613.2 35.9v8.6M610.7 40.6h8.6M615.0 36.3v8.6M609.8 43.0h8.6M614.1 38.7v8.6M609.2 40.5h8.6M613.5 36.2v8.6M609.8 41.1h8.6M614.1 36.8v8.6M611.4 39.2h8.6M615.7 34.9v8.6M610.4 37.9h8.6M614.7 33.6v8.6M611.8 41.1h8.6M616.1 36.8v8.6M610.9 40.8h8.6M615.2 36.5v8.6M611.2 39.5h8.6M615.5 35.2v8.6M611.2 37.3h8.6M615.5 33.0v8.6M612.3 40.2h8.6M616.6 35.9v8.6M612.3 39.2h8.6M616.6 34.9v8.6M612.7 39.6h8.6M617.0 35.3v8.6M612.0 39.0h8.6M616.3 34.7v8.6M612.6 39.6h8.6M616.9 35.3v8.6M613.1 39.7h8.6M617.4 35.4v8.6M612.9 38.8h8.6M617.2 34.5v8.6M612.9 41.1h8.6M617.2 36.8v8.6M614.3 40.2h8.6M618.6 35.9v8.6M613.2 38.1h8.6M617.5 33.8v8.6M613.0 35.6h8.6M617.3 31.3v8.6M613.8 37.1h8.6M618.1 32.8v8.6M613.3 39.5h8.6M617.6 35.2v8.6M613.9 37.7h8.6M618.2 33.4v8.6M615.2 38.1h8.6M619.5 33.8v8.6M614.0 38.1h8.6M618.3 33.8v8.6M615.9 36.6h8.6M620.2 32.3v8.6M616.2 37.2h8.6M620.5 32.9v8.6M614.0 36.7h8.6M618.3 32.4v8.6M615.9 37.2h8.6M620.2 32.9v8.6M615.9 38.7h8.6M620.2 34.4v8.6M616.1 38.8h8.6M620.4 34.5v8.6M615.1 34.8h8.6M619.4 30.5v8.6M616.4 37.0h8.6M620.7 32.7v8.6M616.7 37.1h8.6M621.0 32.8v8.6M615.6 37.5h8.6M619.9 33.2v8.6M615.5 38.6h8.6M619.8 34.3v8.6M617.1 36.6h8.6M621.4 32.3v8.6M615.8 36.7h8.6M620.1 32.4v8.6M617.1 36.8h8.6M621.4 32.5v8.6M616.8 36.3h8.6M621.1 32.0v8.6M618.5 38.9h8.6M622.8 34.6v8.6M617.0 37.8h8.6M621.3 33.5v8.6M616.9 36.7h8.6M621.2 32.4v8.6M616.8 35.7h8.6M621.1 31.4v8.6M618.4 38.6h8.6M622.7 34.3v8.6M619.2 36.2h8.6M623.5 31.9v8.6M619.4 36.1h8.6M623.7 31.8v8.6M619.4 37.5h8.6M623.7 33.2v8.6M617.9 37.2h8.6M622.2 32.9v8.6M618.8 36.9h8.6M623.1 32.6v8.6M619.1 37.3h8.6M623.4 33.0v8.6M618.9 37.3h8.6M623.2 33.0v8.6M619.8 35.6h8.6M624.1 31.3v8.6M618.8 37.7h8.6M623.1 33.4v8.6M619.3 35.5h8.6M623.6 31.2v8.6M620.9 36.1h8.6M625.2 31.8v8.6M620.0 35.9h8.6M624.3 31.6v8.6M621.2 33.6h8.6M625.5 29.3v8.6M621.4 33.6h8.6M625.7 29.3v8.6M620.7 35.3h8.6M625.0 31.0v8.6M621.4 35.4h8.6M625.7 31.1v8.6M621.0 34.2h8.6M625.3 29.9v8.6" stroke="#000" stroke-width="1" fill="none"/>
<path d="M362.50 151.50L625.50 35.00" stroke="#9a9a9a" stroke-width="1.5" fill="none"/>
</g>
<rect x="362.50" y="35.00" width="263.00" height="116.50" fill="none" stroke="#404040" stroke-width="1"/>
<path d="M362.50 151.50v-4.5M362.50 35.00v4.5M428.25 151.50v-4.5M428.25 35.00v4.5M494.00 151.50v-4.5M494.00 35.00v4.5M559.75 151.50v-4.5M559.75 35.00v4.5M625.50 151.50v-4.5M625.50 35.00v4.5M362.50 151.50v-2.3M362.50 35.00v2.3M378.94 151.50v-2.3M378.94 35.00v2.3M395.38 151.50v-2.3M395.38 35.00v2.3M411.81 151.50v-2.3M411.81 35.00v2.3M428.25 151.50v-2.3M428.25 35.00v2.3M444.69 151.50v-2.3M444.69 35.00v2.3M461.12 151.50v-2.3M461.12 35.00v2.3M477.56 151.50v-2.3M477.56 35.00v2.3M494.00 151.50v-2.3M494.00 35.00v2.3M510.44 151.50v-2.3M510.44 35.00v2.3M526.88 151.50v-2.3M526.88 35.00v2.3M543.31 151.50v-2.3M543.31 35.00v2.3M559.75 151.50v-2.3M559.75 35.00v2.3M576.19 151.50v-2.3M576.19 35.00v2.3M592.62 151.50v-2.3M592.62 35.00v2.3M609.06 151.50v-2.3M609.06 35.00v2.3M625.50 151.50v-2.3M625.50 35.00v2.3M362.50 151.50h4.5M625.50 151.50h-4.5M362.50 122.38h4.5M625.50 122.38h-4.5M362.50 93.25h4.5M625.50 93.25h-4.5M362.50 64.12h4.5M625.50 64.12h-4.5M362.50 35.00h4.5M625.50 35.00h-4.5M362.50 151.50h2.3M625.50 151.50h-2.3M362.50 144.22h2.3M625.50 144.22h-2.3M362.50 136.94h2.3M625.50 136.94h-2.3M362.50 129.66h2.3M625.50 129.66h-2.3M362.50 122.38h2.3M625.50 122.38h-2.3M362.50 115.09h2.3M625.50 115.09h-2.3M362.50 107.81h2.3M625.50 107.81h-2.3M362.50 100.53h2.3M625.50 100.53h-2.3M362.50 93.25h2.3M625.50 93.25h-2.3M362.50 85.97h2.3M625.50 85.97h-2.3M362.50 78.69h2.3M625.50 78.69h-2.3M362.50 71.41h2.3M625.50 71.41h-2.3M362.50 64.12h2.3M625.50 64.12h-2.3M362.50 56.84h2.3M625.50 56.84h-2.3M362.50 49.56h2.3M625.50 49.56h-2.3M362.50 42.28h2.3M625.50 42.28h-2.3M362.50 35.00h2.3M625.50 35.00h-2.3" stroke="#404040" stroke-width="1" fill="none"/>
<text transform="translate(362.50,164.60) scale(0.95,1)" font-size="10.7" text-anchor="middle" fill="#3a3a3a">0.2</text>
<text transform="translate(428.25,164.60) scale(0.95,1)" font-size="10.7" text-anchor="middle" fill="#3a3a3a">0.4</text>
<text transform="translate(494.00,164.60) scale(0.95,1)" font-size="10.7" text-anchor="middle" fill="#3a3a3a">0.6</text>
<text transform="translate(559.75,164.60) scale(0.95,1)" font-size="10.7" text-anchor="middle" fill="#3a3a3a">0.8</text>
<text transform="translate(625.50,164.60) scale(0.95,1)" font-size="10.7" text-anchor="middle" fill="#3a3a3a">1</text>
<text transform="translate(357.60,155.20) scale(0.95,1)" font-size="10.7" text-anchor="end" fill="#3a3a3a">0.2</text>
<text transform="translate(357.60,126.08) scale(0.95,1)" font-size="10.7" text-anchor="end" fill="#3a3a3a">0.4</text>
<text transform="translate(357.60,96.95) scale(0.95,1)" font-size="10.7" text-anchor="end" fill="#3a3a3a">0.6</text>
<text transform="translate(357.60,67.82) scale(0.95,1)" font-size="10.7" text-anchor="end" fill="#3a3a3a">0.8</text>
<text transform="translate(357.60,38.70) scale(0.95,1)" font-size="10.7" text-anchor="end" fill="#3a3a3a">1</text>
<text transform="translate(492.00,178.90) scale(1.0,1)" font-size="11.0" font-weight="bold" text-anchor="middle" fill="#000">two-cell correlation (data)</text>
<text transform="translate(329.30,91.90) rotate(-90) scale(1.0,1)" font-size="11.0" font-weight="bold" text-anchor="middle" fill="#000">two-cell correlation</text>
<text transform="translate(340.60,91.20) rotate(-90) scale(1.0,1)" font-size="11.0" font-weight="bold" text-anchor="middle" fill="#000">(model)</text>
<text transform="translate(416.90,55.70) scale(0.935,1)" font-size="10.5" stroke="#111" stroke-width="0.25" text-anchor="start" fill="#111">(B)</text>
<rect x="524.60" y="91.50" width="91.60" height="41.60" fill="#fff" stroke="#404040" stroke-width="1"/>
<path d="M537.9 100.5h8.0M541.9 96.5v8.0M539.1 97.7l5.7 5.7M539.1 103.3l5.7 -5.7" stroke="#ff0000" stroke-width="1.3" fill="none"/>
<text transform="translate(557.20,103.60) scale(1.03,1)" font-size="10.2" stroke="#111" stroke-width="0.25" text-anchor="start" fill="#111">BP 99.23%</text>
<path d="M538.2 112.4h7.4M541.9 108.7v7.4" stroke="#000" stroke-width="0.9" fill="none"/>
<text transform="translate(557.20,115.80) scale(0.95,1)" font-size="10.2" stroke="#111" stroke-width="0.25" text-anchor="start" fill="#111">MC</text>
<path d="M531.00 124.60H553.20" stroke="#9a9a9a" stroke-width="1.3" fill="none"/>
<text transform="translate(557.20,128.00) scale(1.12,1)" font-size="10.2" stroke="#111" stroke-width="0.25" text-anchor="start" fill="#111">equality</text>
<clipPath id="cc"><rect x="51.15" y="195.5" width="265.70000000000005" height="122.85000000000002"/></clipPath>
<g clip-path="url(#cc)">
<path d="M58.7 315.0h5.2M61.3 312.4v5.2M58.8 315.5h5.2M61.4 312.9v5.2M59.3 314.2h5.2M61.9 311.6v5.2M59.0 315.5h5.2M61.6 312.9v5.2M59.5 314.2h5.2M62.1 311.6v5.2M59.9 313.8h5.2M62.5 311.2v5.2M60.2 314.4h5.2M62.8 311.8v5.2M60.0 313.5h5.2M62.6 310.9v5.2M60.4 315.1h5.2M63.0 312.5v5.2M60.3 315.3h5.2M62.9 312.7v5.2M60.8 313.1h5.2M63.4 310.5v5.2M60.8 315.3h5.2M63.4 312.7v5.2M60.9 312.8h5.2M63.5 310.2v5.2M61.2 312.7h5.2M63.8 310.1v5.2M61.5 314.9h5.2M64.1 312.3v5.2M61.5 315.2h5.2M64.1 312.6v5.2M61.6 314.5h5.2M64.2 311.9v5.2M61.7 315.0h5.2M64.3 312.4v5.2M62.3 312.4h5.2M64.9 309.8v5.2M61.8 312.1h5.2M64.4 309.5v5.2M62.7 313.1h5.2M65.3 310.5v5.2M62.5 311.9h5.2M65.1 309.3v5.2M62.8 312.8h5.2M65.4 310.2v5.2M62.7 314.6h5.2M65.3 312.0v5.2M63.2 314.1h5.2M65.8 311.5v5.2M63.2 314.4h5.2M65.8 311.8v5.2M63.7 314.2h5.2M66.3 311.6v5.2M63.6 311.4h5.2M66.2 308.8v5.2M64.0 314.0h5.2M66.6 311.4v5.2M64.0 314.1h5.2M66.6 311.5v5.2M64.3 311.7h5.2M66.9 309.1v5.2M64.3 313.9h5.2M66.9 311.3v5.2M64.4 311.1h5.2M67.0 308.5v5.2M64.7 313.8h5.2M67.3 311.2v5.2M64.6 313.0h5.2M67.2 310.4v5.2M64.8 310.8h5.2M67.4 308.2v5.2M65.1 312.8h5.2M67.7 310.2v5.2M65.4 310.6h5.2M68.0 308.0v5.2M65.6 310.6h5.2M68.2 308.0v5.2M65.7 310.5h5.2M68.3 307.9v5.2M66.1 313.1h5.2M68.7 310.5v5.2M65.9 313.1h5.2M68.5 310.5v5.2M66.1 310.4h5.2M68.7 307.8v5.2M66.3 310.2h5.2M68.9 307.6v5.2M66.4 311.1h5.2M69.0 308.5v5.2M66.7 310.0h5.2M69.3 307.4v5.2M66.7 312.3h5.2M69.3 309.7v5.2M66.8 312.6h5.2M69.4 310.0v5.2M67.5 310.7h5.2M70.1 308.1v5.2M67.3 312.5h5.2M69.9 309.9v5.2M67.7 311.2h5.2M70.3 308.6v5.2M67.7 312.3h5.2M70.3 309.7v5.2M68.3 310.8h5.2M70.9 308.2v5.2M68.0 312.2h5.2M70.6 309.6v5.2M68.2 310.0h5.2M70.8 307.4v5.2M68.6 312.0h5.2M71.2 309.4v5.2M68.7 309.1h5.2M71.3 306.5v5.2M68.6 311.8h5.2M71.2 309.2v5.2M68.8 310.6h5.2M71.4 308.0v5.2M69.1 308.9h5.2M71.7 306.3v5.2M69.5 310.0h5.2M72.1 307.4v5.2M69.5 308.7h5.2M72.1 306.1v5.2M69.9 310.6h5.2M72.5 308.0v5.2M69.5 308.6h5.2M72.1 306.0v5.2M70.2 311.1h5.2M72.8 308.5v5.2M70.0 308.4h5.2M72.6 305.8v5.2M70.5 309.1h5.2M73.1 306.5v5.2M70.4 308.2h5.2M73.0 305.6v5.2M70.7 309.7h5.2M73.3 307.1v5.2M70.7 308.1h5.2M73.3 305.5v5.2M71.3 308.0h5.2M73.9 305.4v5.2M71.2 310.7h5.2M73.8 308.1v5.2M71.4 308.4h5.2M74.0 305.8v5.2M71.7 307.7h5.2M74.3 305.1v5.2M71.7 308.8h5.2M74.3 306.2v5.2M72.0 307.6h5.2M74.6 305.0v5.2M72.1 308.4h5.2M74.7 305.8v5.2M72.4 307.4h5.2M75.0 304.8v5.2M72.8 307.7h5.2M75.4 305.1v5.2M72.5 310.1h5.2M75.1 307.5v5.2M73.1 308.4h5.2M75.7 305.8v5.2M72.7 307.1h5.2M75.3 304.5v5.2M73.3 307.5h5.2M75.9 304.9v5.2M73.4 309.7h5.2M76.0 307.1v5.2M73.4 307.6h5.2M76.0 305.0v5.2M73.8 309.6h5.2M76.4 307.0v5.2M74.1 307.6h5.2M76.7 305.0v5.2M73.7 306.6h5.2M76.3 304.0v5.2M74.5 307.2h5.2M77.1 304.6v5.2M74.2 306.5h5.2M76.8 303.9v5.2M74.6 307.4h5.2M77.2 304.8v5.2M74.9 306.3h5.2M77.5 303.7v5.2M74.7 308.8h5.2M77.3 306.2v5.2M75.2 308.9h5.2M77.8 306.3v5.2M75.3 308.6h5.2M77.9 306.0v5.2M75.6 306.0h5.2M78.2 303.4v5.2M75.8 308.2h5.2M78.4 305.6v5.2M75.8 308.6h5.2M78.4 306.0v5.2M75.9 306.6h5.2M78.5 304.0v5.2M75.9 305.7h5.2M78.5 303.1v5.2M76.5 306.3h5.2M79.1 303.7v5.2M76.6 305.5h5.2M79.2 302.9v5.2M77.0 307.3h5.2M79.6 304.7v5.2M77.0 308.1h5.2M79.6 305.5v5.2M77.3 306.8h5.2M79.9 304.2v5.2M76.8 308.0h5.2M79.4 305.4v5.2M77.3 305.9h5.2M79.9 303.3v5.2M77.5 307.8h5.2M80.1 305.2v5.2M77.7 307.5h5.2M80.3 304.9v5.2M77.9 304.9h5.2M80.5 302.3v5.2M78.0 307.1h5.2M80.6 304.5v5.2M78.1 307.5h5.2M80.7 304.9v5.2M78.4 305.1h5.2M81.0 302.5v5.2M78.5 307.3h5.2M81.1 304.7v5.2M78.7 306.6h5.2M81.3 304.0v5.2M79.1 307.2h5.2M81.7 304.6v5.2M79.4 304.2h5.2M82.0 301.6v5.2M79.3 307.0h5.2M81.9 304.4v5.2M79.3 304.8h5.2M81.9 302.2v5.2M79.4 306.9h5.2M82.0 304.3v5.2M79.9 305.2h5.2M82.5 302.6v5.2M80.1 303.9h5.2M82.7 301.3v5.2M80.0 304.1h5.2M82.6 301.5v5.2M80.0 303.7h5.2M82.6 301.1v5.2M80.9 306.0h5.2M83.5 303.4v5.2M80.4 306.4h5.2M83.0 303.8v5.2M80.8 304.3h5.2M83.4 301.7v5.2M80.9 306.2h5.2M83.5 303.6v5.2M81.4 304.3h5.2M84.0 301.7v5.2M81.1 303.2h5.2M83.7 300.6v5.2M81.4 304.6h5.2M84.0 302.0v5.2M81.8 303.1h5.2M84.4 300.5v5.2M81.7 303.4h5.2M84.3 300.8v5.2M81.9 305.7h5.2M84.5 303.1v5.2M82.5 303.8h5.2M85.1 301.2v5.2M82.5 305.6h5.2M85.1 303.0v5.2M82.7 303.6h5.2M85.3 301.0v5.2M82.7 305.4h5.2M85.3 302.8v5.2M83.0 304.4h5.2M85.6 301.8v5.2M83.0 302.4h5.2M85.6 299.8v5.2M83.4 304.2h5.2M86.0 301.6v5.2M83.1 302.3h5.2M85.7 299.7v5.2M83.7 304.6h5.2M86.3 302.0v5.2M84.0 302.1h5.2M86.6 299.5v5.2M84.3 304.2h5.2M86.9 301.6v5.2M84.0 302.0h5.2M86.6 299.4v5.2M84.2 304.1h5.2M86.8 301.5v5.2M84.5 304.6h5.2M87.1 302.0v5.2M85.0 303.5h5.2M87.6 300.9v5.2M84.9 304.4h5.2M87.5 301.8v5.2M84.9 303.1h5.2M87.5 300.5v5.2M84.9 301.5h5.2M87.5 298.9v5.2M85.7 301.4h5.2M88.3 298.8v5.2M85.3 301.3h5.2M87.9 298.7v5.2M86.1 301.7h5.2M88.7 299.1v5.2M85.6 304.0h5.2M88.2 301.4v5.2M86.0 303.4h5.2M88.6 300.8v5.2M86.3 303.8h5.2M88.9 301.2v5.2M86.8 302.5h5.2M89.4 299.9v5.2M86.7 300.8h5.2M89.3 298.2v5.2M87.1 302.1h5.2M89.7 299.5v5.2M87.0 300.7h5.2M89.6 298.1v5.2M87.4 303.1h5.2M90.0 300.5v5.2M87.0 300.5h5.2M89.6 297.9v5.2M87.6 302.7h5.2M90.2 300.1v5.2M87.4 300.4h5.2M90.0 297.8v5.2M87.8 301.9h5.2M90.4 299.3v5.2M88.1 300.2h5.2M90.7 297.6v5.2M88.2 301.1h5.2M90.8 298.5v5.2M88.2 300.0h5.2M90.8 297.4v5.2M88.4 301.3h5.2M91.0 298.7v5.2M88.9 299.9h5.2M91.5 297.3v5.2M89.1 300.2h5.2M91.7 297.6v5.2M89.1 302.5h5.2M91.7 299.9v5.2M89.5 301.0h5.2M92.1 298.4v5.2M89.3 302.3h5.2M91.9 299.7v5.2M89.9 299.8h5.2M92.5 297.2v5.2M89.5 302.2h5.2M92.1 299.6v5.2M90.3 300.7h5.2M92.9 298.1v5.2M90.0 302.0h5.2M92.6 299.4v5.2M90.2 299.8h5.2M92.8 297.2v5.2M90.2 301.9h5.2M92.8 299.3v5.2M90.6 299.6h5.2M93.2 297.0v5.2M90.9 301.7h5.2M93.5 299.1v5.2M91.0 300.7h5.2M93.6 298.1v5.2M91.0 301.5h5.2M93.6 298.9v5.2M91.5 299.3h5.2M94.1 296.7v5.2M91.3 298.6h5.2M93.9 296.0v5.2M91.8 299.5h5.2M94.4 296.9v5.2M91.6 298.4h5.2M94.2 295.8v5.2M92.0 300.4h5.2M94.6 297.8v5.2M91.9 301.1h5.2M94.5 298.5v5.2M92.5 299.8h5.2M95.1 297.2v5.2M92.5 300.9h5.2M95.1 298.3v5.2M93.0 299.5h5.2M95.6 296.9v5.2M92.8 300.7h5.2M95.4 298.1v5.2M93.4 298.9h5.2M96.0 296.3v5.2M93.3 300.6h5.2M95.9 298.0v5.2M93.5 298.3h5.2M96.1 295.7v5.2M93.4 300.4h5.2M96.0 297.8v5.2M94.0 300.1h5.2M96.6 297.5v5.2M94.1 297.5h5.2M96.7 294.9v5.2M94.1 298.0h5.2M96.7 295.4v5.2M94.1 300.1h5.2M96.7 297.5v5.2M94.8 299.7h5.2M97.4 297.1v5.2M94.5 299.9h5.2M97.1 297.3v5.2M94.8 298.2h5.2M97.4 295.6v5.2M95.1 297.0h5.2M97.7 294.4v5.2M95.1 299.2h5.2M97.7 296.6v5.2M95.2 296.8h5.2M97.8 294.2v5.2M95.7 298.5h5.2M98.3 295.9v5.2M95.4 296.7h5.2M98.0 294.1v5.2M96.0 297.9h5.2M98.6 295.3v5.2M95.8 299.3h5.2M98.4 296.7v5.2M96.6 297.4h5.2M99.2 294.8v5.2M96.4 296.3h5.2M99.0 293.7v5.2M96.6 298.0h5.2M99.2 295.4v5.2M96.5 299.0h5.2M99.1 296.4v5.2M97.3 296.3h5.2M99.9 293.7v5.2M97.3 296.0h5.2M99.9 293.4v5.2M97.6 298.0h5.2M100.2 295.4v5.2M97.3 298.7h5.2M99.9 296.1v5.2M97.8 297.9h5.2M100.4 295.3v5.2M97.6 298.5h5.2M100.2 295.9v5.2M98.4 297.4h5.2M101.0 294.8v5.2M98.1 295.5h5.2M100.7 292.9v5.2M98.4 296.4h5.2M101.0 293.8v5.2M98.6 298.2h5.2M101.2 295.6v5.2M98.8 295.7h5.2M101.4 293.1v5.2M98.9 298.0h5.2M101.5 295.4v5.2M99.0 297.5h5.2M101.6 294.9v5.2M99.2 295.0h5.2M101.8 292.4v5.2M99.8 295.3h5.2M102.4 292.7v5.2M99.4 297.7h5.2M102.0 295.1v5.2M99.9 296.3h5.2M102.5 293.7v5.2M99.9 294.7h5.2M102.5 292.1v5.2M100.1 295.1h5.2M102.7 292.5v5.2M99.9 297.4h5.2M102.5 294.8v5.2M100.7 295.9h5.2M103.3 293.3v5.2M100.7 294.4h5.2M103.3 291.8v5.2M100.8 295.3h5.2M103.4 292.7v5.2M101.1 294.2h5.2M103.7 291.6v5.2M101.3 294.8h5.2M103.9 292.2v5.2M101.4 294.1h5.2M104.0 291.5v5.2M101.5 295.1h5.2M104.1 292.5v5.2M101.6 296.7h5.2M104.2 294.1v5.2M101.9 296.1h5.2M104.5 293.5v5.2M101.7 293.8h5.2M104.3 291.2v5.2M102.1 293.9h5.2M104.7 291.3v5.2M102.5 296.4h5.2M105.1 293.8v5.2M102.5 294.0h5.2M105.1 291.4v5.2M102.6 296.2h5.2M105.2 293.6v5.2M103.2 295.4h5.2M105.8 292.8v5.2M103.1 293.3h5.2M105.7 290.7v5.2M103.3 293.7h5.2M105.9 291.1v5.2M103.4 295.9h5.2M106.0 293.3v5.2M103.5 293.7h5.2M106.1 291.1v5.2M103.9 293.0h5.2M106.5 290.4v5.2M104.2 295.3h5.2M106.8 292.7v5.2M104.3 292.8h5.2M106.9 290.2v5.2M104.4 294.3h5.2M107.0 291.7v5.2M104.5 295.4h5.2M107.1 292.8v5.2M104.9 293.3h5.2M107.5 290.7v5.2M105.0 292.5h5.2M107.6 289.9v5.2M105.2 294.4h5.2M107.8 291.8v5.2M104.8 295.1h5.2M107.4 292.5v5.2M105.5 293.5h5.2M108.1 290.9v5.2M105.5 292.2h5.2M108.1 289.6v5.2M105.6 293.5h5.2M108.2 290.9v5.2M105.5 294.8h5.2M108.1 292.2v5.2M106.2 293.1h5.2M108.8 290.5v5.2M106.2 294.6h5.2M108.8 292.0v5.2M106.7 292.1h5.2M109.3 289.5v5.2M106.7 294.5h5.2M109.3 291.9v5.2M106.6 292.5h5.2M109.2 289.9v5.2M106.7 291.5h5.2M109.3 288.9v5.2M107.2 294.0h5.2M109.8 291.4v5.2M107.1 294.2h5.2M109.7 291.6v5.2M107.7 291.6h5.2M110.3 289.0v5.2M107.8 294.0h5.2M110.4 291.4v5.2M108.2 293.0h5.2M110.8 290.4v5.2M108.0 291.0h5.2M110.6 288.4v5.2M108.4 293.5h5.2M111.0 290.9v5.2M108.5 290.9h5.2M111.1 288.3v5.2M108.8 292.1h5.2M111.4 289.5v5.2M108.4 290.7h5.2M111.0 288.1v5.2M108.7 291.1h5.2M111.3 288.5v5.2M108.7 290.5h5.2M111.3 287.9v5.2M109.4 291.9h5.2M112.0 289.3v5.2M109.3 293.2h5.2M111.9 290.6v5.2M109.5 291.5h5.2M112.1 288.9v5.2M109.8 290.2h5.2M112.4 287.6v5.2M109.8 292.6h5.2M112.4 290.0v5.2M110.1 290.1h5.2M112.7 287.5v5.2M110.3 291.4h5.2M112.9 288.8v5.2M110.4 289.9h5.2M113.0 287.3v5.2M110.4 290.3h5.2M113.0 287.7v5.2M110.9 289.7h5.2M113.5 287.1v5.2M111.0 290.1h5.2M113.6 287.5v5.2M110.9 289.6h5.2M113.5 287.0v5.2M111.3 289.9h5.2M113.9 287.3v5.2M111.1 289.4h5.2M113.7 286.8v5.2M111.6 290.6h5.2M114.2 288.0v5.2M111.5 289.3h5.2M114.1 286.7v5.2M112.1 290.2h5.2M114.7 287.6v5.2M112.2 289.1h5.2M114.8 286.5v5.2M112.4 290.1h5.2M115.0 287.5v5.2M112.2 291.7h5.2M114.8 289.1v5.2M112.6 289.0h5.2M115.2 286.4v5.2M112.8 288.8h5.2M115.4 286.2v5.2M113.2 289.6h5.2M115.8 287.0v5.2M112.9 288.6h5.2M115.5 286.0v5.2M113.6 289.2h5.2M116.2 286.6v5.2M113.7 288.5h5.2M116.3 285.9v5.2M114.1 289.1h5.2M116.7 286.5v5.2M113.7 288.3h5.2M116.3 285.7v5.2M114.4 289.9h5.2M117.0 287.3v5.2M114.1 288.1h5.2M116.7 285.5v5.2M114.7 290.7h5.2M117.3 288.1v5.2M114.6 288.0h5.2M117.2 285.4v5.2M114.6 288.1h5.2M117.2 285.5v5.2M114.7 287.8h5.2M117.3 285.2v5.2M115.0 289.5h5.2M117.6 286.9v5.2M115.5 287.7h5.2M118.1 285.1v5.2M115.9 288.8h5.2M118.5 286.2v5.2M115.8 290.3h5.2M118.4 287.7v5.2M116.2 287.4h5.2M118.8 284.8v5.2M115.8 290.1h5.2M118.4 287.5v5.2M116.6 287.4h5.2M119.2 284.8v5.2M116.2 290.0h5.2M118.8 287.4v5.2M116.4 288.1h5.2M119.0 285.5v5.2M116.6 289.8h5.2M119.2 287.2v5.2M117.3 287.3h5.2M119.9 284.7v5.2M117.1 289.7h5.2M119.7 287.1v5.2M117.6 288.2h5.2M120.2 285.6v5.2M117.6 286.7h5.2M120.2 284.1v5.2M117.6 287.2h5.2M120.2 284.6v5.2M117.9 286.5h5.2M120.5 283.9v5.2M117.9 286.8h5.2M120.5 284.2v5.2M118.2 289.2h5.2M120.8 286.6v5.2M118.5 287.3h5.2M121.1 284.7v5.2M118.4 286.2h5.2M121.0 283.6v5.2M118.9 286.1h5.2M121.5 283.5v5.2M118.7 288.8h5.2M121.3 286.2v5.2M119.2 286.2h5.2M121.8 283.6v5.2M118.9 288.7h5.2M121.5 286.1v5.2M119.5 288.2h5.2M122.1 285.6v5.2M119.7 285.7h5.2M122.3 283.1v5.2M120.0 287.6h5.2M122.6 285.0v5.2M119.7 285.4h5.2M122.3 282.8v5.2M119.9 286.4h5.2M122.5 283.8v5.2M120.4 285.2h5.2M123.0 282.6v5.2M120.5 285.3h5.2M123.1 282.7v5.2M120.2 288.1h5.2M122.8 285.5v5.2M120.7 284.8h5.2M123.3 282.2v5.2M120.6 288.0h5.2M123.2 285.4v5.2M121.3 284.4h5.2M123.9 281.8v5.2M121.0 287.8h5.2M123.6 285.2v5.2M121.4 286.1h5.2M124.0 283.5v5.2M121.5 287.7h5.2M124.1 285.1v5.2M122.0 286.8h5.2M124.6 284.2v5.2M121.9 284.0h5.2M124.5 281.4v5.2M122.1 284.1h5.2M124.7 281.5v5.2M122.4 283.8h5.2M125.0 281.2v5.2M122.3 287.1h5.2M124.9 284.5v5.2M122.4 287.2h5.2M125.0 284.6v5.2M122.7 285.1h5.2M125.3 282.5v5.2M122.8 287.0h5.2M125.4 284.4v5.2M123.4 285.6h5.2M126.0 283.0v5.2M123.5 286.8h5.2M126.1 284.2v5.2M123.6 285.3h5.2M126.2 282.7v5.2M123.6 283.2h5.2M126.2 280.6v5.2M124.2 285.1h5.2M126.8 282.5v5.2M124.2 283.0h5.2M126.8 280.4v5.2M124.4 284.5h5.2M127.0 281.9v5.2M124.5 282.9h5.2M127.1 280.3v5.2M124.6 284.4h5.2M127.2 281.8v5.2M124.4 286.2h5.2M127.0 283.6v5.2M125.2 284.0h5.2M127.8 281.4v5.2M125.1 286.0h5.2M127.7 283.4v5.2M125.2 283.6h5.2M127.8 281.0v5.2M125.7 282.4h5.2M128.3 279.8v5.2M125.7 282.5h5.2M128.3 279.9v5.2M125.6 282.3h5.2M128.2 279.7v5.2M126.4 284.6h5.2M129.0 282.0v5.2M126.3 285.5h5.2M128.9 282.9v5.2M126.5 285.1h5.2M129.1 282.5v5.2M126.5 281.9h5.2M129.1 279.3v5.2M127.1 284.9h5.2M129.7 282.3v5.2M127.1 281.8h5.2M129.7 279.2v5.2M127.3 283.0h5.2M129.9 280.4v5.2M127.4 285.0h5.2M130.0 282.4v5.2M127.4 284.6h5.2M130.0 282.0v5.2M127.3 281.5h5.2M129.9 278.9v5.2M128.0 282.3h5.2M130.6 279.7v5.2M127.9 284.7h5.2M130.5 282.1v5.2M127.9 283.7h5.2M130.5 281.1v5.2M128.1 281.1h5.2M130.7 278.5v5.2M128.5 283.5h5.2M131.1 280.9v5.2M128.7 281.0h5.2M131.3 278.4v5.2M128.7 281.8h5.2M131.3 279.2v5.2M128.8 280.8h5.2M131.4 278.2v5.2M129.0 283.2h5.2M131.6 280.6v5.2M129.4 284.0h5.2M132.0 281.4v5.2M129.9 283.5h5.2M132.5 280.9v5.2M129.5 280.5h5.2M132.1 277.9v5.2M129.8 281.9h5.2M132.4 279.3v5.2M130.0 283.7h5.2M132.6 281.1v5.2M130.2 283.1h5.2M132.8 280.5v5.2M130.2 280.2h5.2M132.8 277.6v5.2M130.9 282.7h5.2M133.5 280.1v5.2M130.5 280.0h5.2M133.1 277.4v5.2M131.2 279.9h5.2M133.8 277.3v5.2M130.8 283.2h5.2M133.4 280.6v5.2M131.4 280.3h5.2M134.0 277.7v5.2M131.1 279.7h5.2M133.7 277.1v5.2M131.9 281.1h5.2M134.5 278.5v5.2M132.0 282.9h5.2M134.6 280.3v5.2M132.3 279.5h5.2M134.9 276.9v5.2M131.9 279.4h5.2M134.5 276.8v5.2M132.4 280.4h5.2M135.0 277.8v5.2M132.1 282.6h5.2M134.7 280.0v5.2M132.5 280.1h5.2M135.1 277.5v5.2M132.6 282.4h5.2M135.2 279.8v5.2M133.1 279.8h5.2M135.7 277.2v5.2M132.8 278.9h5.2M135.4 276.3v5.2M133.5 281.0h5.2M136.1 278.4v5.2M133.7 282.1h5.2M136.3 279.5v5.2M133.6 279.0h5.2M136.2 276.4v5.2M134.0 281.9h5.2M136.6 279.3v5.2M134.2 281.2h5.2M136.8 278.6v5.2M134.2 278.4h5.2M136.8 275.8v5.2M134.3 278.3h5.2M136.9 275.7v5.2M134.6 281.6h5.2M137.2 279.0v5.2M135.1 279.7h5.2M137.7 277.1v5.2M134.9 281.4h5.2M137.5 278.8v5.2M135.4 279.9h5.2M138.0 277.3v5.2M135.1 281.3h5.2M137.7 278.7v5.2M135.4 278.4h5.2M138.0 275.8v5.2M135.7 281.1h5.2M138.3 278.5v5.2M135.9 279.0h5.2M138.5 276.4v5.2M135.8 277.6h5.2M138.4 275.0v5.2M136.4 279.0h5.2M139.0 276.4v5.2M136.5 277.5h5.2M139.1 274.9v5.2M136.5 279.0h5.2M139.1 276.4v5.2M136.5 280.6h5.2M139.1 278.0v5.2M137.1 280.2h5.2M139.7 277.6v5.2M137.0 277.2h5.2M139.6 274.6v5.2M137.3 278.8h5.2M139.9 276.2v5.2M137.3 277.0h5.2M139.9 274.4v5.2M137.8 279.8h5.2M140.4 277.2v5.2M137.4 280.1h5.2M140.0 277.5v5.2M137.9 278.4h5.2M140.5 275.8v5.2M138.2 279.9h5.2M140.8 277.3v5.2M138.4 277.2h5.2M141.0 274.6v5.2M138.6 276.5h5.2M141.2 273.9v5.2M138.6 279.1h5.2M141.2 276.5v5.2M138.6 276.4h5.2M141.2 273.8v5.2M139.3 279.3h5.2M141.9 276.7v5.2M138.9 276.2h5.2M141.5 273.6v5.2M139.3 276.5h5.2M141.9 273.9v5.2M139.3 279.3h5.2M141.9 276.7v5.2M139.5 276.6h5.2M142.1 274.0v5.2M139.6 275.9h5.2M142.2 273.3v5.2M140.1 278.1h5.2M142.7 275.5v5.2M140.3 279.0h5.2M142.9 276.4v5.2M140.6 275.6h5.2M143.2 273.0v5.2M140.3 278.8h5.2M142.9 276.2v5.2M140.5 276.3h5.2M143.1 273.7v5.2M140.8 275.4h5.2M143.4 272.8v5.2M141.2 275.4h5.2M143.8 272.8v5.2M141.0 278.5h5.2M143.6 275.9v5.2M141.3 278.0h5.2M143.9 275.4v5.2M141.3 278.3h5.2M143.9 275.7v5.2M142.0 277.0h5.2M144.6 274.4v5.2M141.6 275.0h5.2M144.2 272.4v5.2M142.4 275.4h5.2M145.0 272.8v5.2M142.0 277.9h5.2M144.6 275.3v5.2M142.8 274.8h5.2M145.4 272.2v5.2M142.8 277.8h5.2M145.4 275.2v5.2M142.8 274.9h5.2M145.4 272.3v5.2M142.8 277.6h5.2M145.4 275.0v5.2M143.1 274.8h5.2M145.7 272.2v5.2M143.0 274.4h5.2M145.6 271.8v5.2M143.5 277.0h5.2M146.1 274.4v5.2M143.3 274.3h5.2M145.9 271.7v5.2M144.2 277.0h5.2M146.8 274.4v5.2M144.2 274.1h5.2M146.8 271.5v5.2M144.2 276.7h5.2M146.8 274.1v5.2M144.3 276.9h5.2M146.9 274.3v5.2M144.5 273.9h5.2M147.1 271.3v5.2M144.6 276.7h5.2M147.2 274.1v5.2M145.2 275.3h5.2M147.8 272.7v5.2M145.0 276.5h5.2M147.6 273.9v5.2M145.3 275.1h5.2M147.9 272.5v5.2M145.5 273.6h5.2M148.1 271.0v5.2M145.8 276.0h5.2M148.4 273.4v5.2M145.9 273.4h5.2M148.5 270.8v5.2M146.3 275.6h5.2M148.9 273.0v5.2M145.9 273.3h5.2M148.5 270.7v5.2M146.2 273.3h5.2M148.8 270.7v5.2M146.7 273.2h5.2M149.3 270.6v5.2M147.0 273.3h5.2M149.6 270.7v5.2M146.5 275.6h5.2M149.1 273.0v5.2M147.3 275.4h5.2M149.9 272.8v5.2M147.2 275.4h5.2M149.8 272.8v5.2M147.6 273.0h5.2M150.2 270.4v5.2M147.5 272.8h5.2M150.1 270.2v5.2M147.6 274.1h5.2M150.2 271.5v5.2M147.7 275.1h5.2M150.3 272.5v5.2M148.1 273.3h5.2M150.7 270.7v5.2M148.1 274.9h5.2M150.7 272.3v5.2M148.8 274.6h5.2M151.4 272.0v5.2M148.7 274.7h5.2M151.3 272.1v5.2M148.7 274.5h5.2M151.3 271.9v5.2M148.7 272.2h5.2M151.3 269.6v5.2M149.2 273.8h5.2M151.8 271.2v5.2M149.1 274.4h5.2M151.7 271.8v5.2M149.4 274.1h5.2M152.0 271.5v5.2M149.5 271.9h5.2M152.1 269.3v5.2M149.9 273.7h5.2M152.5 271.1v5.2M150.2 274.0h5.2M152.8 271.4v5.2M150.2 273.0h5.2M152.8 270.4v5.2M150.0 271.6h5.2M152.6 269.0v5.2M150.8 273.2h5.2M153.4 270.6v5.2M150.3 273.7h5.2M152.9 271.1v5.2M150.9 273.4h5.2M153.5 270.8v5.2M150.9 271.4h5.2M153.5 268.8v5.2M151.3 273.1h5.2M153.9 270.5v5.2M151.3 273.3h5.2M153.9 270.7v5.2M151.8 271.8h5.2M154.4 269.2v5.2M151.5 273.1h5.2M154.1 270.5v5.2M151.9 271.7h5.2M154.5 269.1v5.2M152.1 272.9h5.2M154.7 270.3v5.2M152.4 271.1h5.2M155.0 268.5v5.2M152.2 270.8h5.2M154.8 268.2v5.2M152.8 270.9h5.2M155.4 268.3v5.2M152.4 270.7h5.2M155.0 268.1v5.2M152.9 270.6h5.2M155.5 268.0v5.2M153.1 272.4h5.2M155.7 269.8v5.2M153.4 271.8h5.2M156.0 269.2v5.2M153.6 272.2h5.2M156.2 269.6v5.2M154.0 271.1h5.2M156.6 268.5v5.2M153.9 270.3h5.2M156.5 267.7v5.2M154.3 270.8h5.2M156.9 268.2v5.2M154.1 271.9h5.2M156.7 269.3v5.2M154.3 270.3h5.2M156.9 267.7v5.2M154.6 271.7h5.2M157.2 269.1v5.2M154.6 269.9h5.2M157.2 267.3v5.2M154.7 269.9h5.2M157.3 267.3v5.2M155.3 270.0h5.2M157.9 267.4v5.2M155.0 269.7h5.2M157.6 267.1v5.2M155.5 270.3h5.2M158.1 267.7v5.2M155.6 271.2h5.2M158.2 268.6v5.2M155.8 269.6h5.2M158.4 267.0v5.2M156.1 271.0h5.2M158.7 268.4v5.2M156.0 270.0h5.2M158.6 267.4v5.2M156.4 270.8h5.2M159.0 268.2v5.2M156.3 269.2h5.2M158.9 266.6v5.2M156.5 269.2h5.2M159.1 266.6v5.2M157.1 270.2h5.2M159.7 267.6v5.2M156.8 269.0h5.2M159.4 266.4v5.2M157.3 270.1h5.2M159.9 267.5v5.2M157.1 268.9h5.2M159.7 266.3v5.2M157.4 269.6h5.2M160.0 267.0v5.2M157.3 270.0h5.2M159.9 267.4v5.2M158.0 269.3h5.2M160.6 266.7v5.2M157.7 268.6h5.2M160.3 266.0v5.2M158.3 269.5h5.2M160.9 266.9v5.2M158.3 268.5h5.2M160.9 265.9v5.2M158.9 269.1h5.2M161.5 266.5v5.2M158.7 268.4h5.2M161.3 265.8v5.2M158.9 269.2h5.2M161.5 266.6v5.2M158.8 269.3h5.2M161.4 266.7v5.2M159.4 268.5h5.2M162.0 265.9v5.2M159.5 269.1h5.2M162.1 266.5v5.2M159.9 268.7h5.2M162.5 266.1v5.2M159.5 268.0h5.2M162.1 265.4v5.2M160.0 268.1h5.2M162.6 265.5v5.2M159.9 268.7h5.2M162.5 266.1v5.2M160.2 268.4h5.2M162.8 265.8v5.2M160.7 267.7h5.2M163.3 265.1v5.2M161.0 267.9h5.2M163.6 265.3v5.2M160.6 267.6h5.2M163.2 265.0v5.2M160.8 267.8h5.2M163.4 265.2v5.2M161.0 268.1h5.2M163.6 265.5v5.2M161.6 267.4h5.2M164.2 264.8v5.2M161.4 267.3h5.2M164.0 264.7v5.2M161.6 267.3h5.2M164.2 264.7v5.2M161.7 267.8h5.2M164.3 265.2v5.2M162.1 267.1h5.2M164.7 264.5v5.2M162.0 267.1h5.2M164.6 264.5v5.2M162.5 267.0h5.2M165.1 264.4v5.2M162.6 266.9h5.2M165.2 264.3v5.2M163.0 267.0h5.2M165.6 264.4v5.2M162.7 267.2h5.2M165.3 264.6v5.2M164.8 263.0h5.2M167.4 260.4v5.2M165.0 263.3h5.2M167.6 260.7v5.2M165.2 262.5h5.2M167.8 259.9v5.2M165.4 263.1h5.2M168.0 260.5v5.2M165.6 262.7h5.2M168.2 260.1v5.2M165.5 263.0h5.2M168.1 260.4v5.2M166.1 262.3h5.2M168.7 259.7v5.2M166.1 262.9h5.2M168.7 260.3v5.2M166.2 262.8h5.2M168.8 260.2v5.2M166.3 262.0h5.2M168.9 259.4v5.2M166.8 262.1h5.2M169.4 259.5v5.2M166.8 262.7h5.2M169.4 260.1v5.2M166.8 262.2h5.2M169.4 259.6v5.2M167.2 261.7h5.2M169.8 259.1v5.2M167.4 262.3h5.2M170.0 259.7v5.2M167.3 261.5h5.2M169.9 258.9v5.2M167.7 262.2h5.2M170.3 259.6v5.2M167.5 261.4h5.2M170.1 258.8v5.2M168.2 261.8h5.2M170.8 259.2v5.2M167.9 262.2h5.2M170.5 259.6v5.2M168.6 261.6h5.2M171.2 259.0v5.2M168.7 262.1h5.2M171.3 259.5v5.2M168.9 261.2h5.2M171.5 258.6v5.2M168.5 262.0h5.2M171.1 259.4v5.2M169.2 261.1h5.2M171.8 258.5v5.2M169.1 261.9h5.2M171.7 259.3v5.2M169.3 261.4h5.2M171.9 258.8v5.2M169.5 260.6h5.2M172.1 258.0v5.2M169.6 261.2h5.2M172.2 258.6v5.2M169.7 261.8h5.2M172.3 259.2v5.2M170.0 260.9h5.2M172.6 258.3v5.2M170.0 260.4h5.2M172.6 257.8v5.2M170.5 260.4h5.2M173.1 257.8v5.2M170.2 260.2h5.2M172.8 257.6v5.2M170.7 261.0h5.2M173.3 258.4v5.2M170.7 260.1h5.2M173.3 257.5v5.2M171.2 261.6h5.2M173.8 259.0v5.2M171.4 261.8h5.2M174.0 259.2v5.2M171.5 260.0h5.2M174.1 257.4v5.2M171.4 259.9h5.2M174.0 257.3v5.2M172.2 260.0h5.2M174.8 257.4v5.2M172.2 259.8h5.2M174.8 257.2v5.2M172.2 260.2h5.2M174.8 257.6v5.2M172.5 259.7h5.2M175.1 257.1v5.2M172.6 260.7h5.2M175.2 258.1v5.2M172.4 259.6h5.2M175.0 257.0v5.2M173.2 261.3h5.2M175.8 258.7v5.2M173.1 261.8h5.2M175.7 259.2v5.2M173.1 261.0h5.2M175.7 258.4v5.2M173.5 259.4h5.2M176.1 256.8v5.2M173.6 261.6h5.2M176.2 259.0v5.2M173.5 261.6h5.2M176.1 259.0v5.2M173.8 260.7h5.2M176.4 258.1v5.2M173.9 261.5h5.2M176.5 258.9v5.2M174.3 261.0h5.2M176.9 258.4v5.2M174.5 261.4h5.2M177.1 258.8v5.2M174.8 259.8h5.2M177.4 257.2v5.2M174.9 258.7h5.2M177.5 256.1v5.2M175.1 260.0h5.2M177.7 257.4v5.2M175.0 258.5h5.2M177.6 255.9v5.2M175.2 260.0h5.2M177.8 257.4v5.2M175.2 260.9h5.2M177.8 258.3v5.2M175.8 260.7h5.2M178.4 258.1v5.2M176.0 260.8h5.2M178.6 258.2v5.2M176.0 258.1h5.2M178.6 255.5v5.2M176.1 260.6h5.2M178.7 258.0v5.2M176.7 258.4h5.2M179.3 255.8v5.2M176.2 260.5h5.2M178.8 257.9v5.2M176.9 259.0h5.2M179.5 256.4v5.2M176.9 257.7h5.2M179.5 255.1v5.2M177.2 259.3h5.2M179.8 256.7v5.2M177.2 257.5h5.2M179.8 254.9v5.2M177.3 259.0h5.2M179.9 256.4v5.2M177.7 257.3h5.2M180.3 254.7v5.2M177.6 257.4h5.2M180.2 254.8v5.2M178.0 257.2h5.2M180.6 254.6v5.2M178.2 259.7h5.2M180.8 257.1v5.2M178.3 257.0h5.2M180.9 254.4v5.2M178.7 256.8h5.2M181.3 254.2v5.2M178.4 259.6h5.2M181.0 257.0v5.2M178.7 256.7h5.2M181.3 254.1v5.2M178.9 256.7h5.2M181.5 254.1v5.2M179.5 256.8h5.2M182.1 254.2v5.2M179.4 256.5h5.2M182.0 253.9v5.2M179.8 257.6h5.2M182.4 255.0v5.2M179.7 256.3h5.2M182.3 253.7v5.2M179.8 257.5h5.2M182.4 254.9v5.2M180.1 256.1h5.2M182.7 253.5v5.2M180.1 257.2h5.2M182.7 254.6v5.2M180.1 256.0h5.2M182.7 253.4v5.2M180.7 257.4h5.2M183.3 254.8v5.2M180.7 255.8h5.2M183.3 253.2v5.2M180.7 255.7h5.2M183.3 253.1v5.2M180.9 255.6h5.2M183.5 253.0v5.2M181.4 256.3h5.2M184.0 253.7v5.2M181.5 258.5h5.2M184.1 255.9v5.2M181.8 257.5h5.2M184.4 254.9v5.2M181.7 255.3h5.2M184.3 252.7v5.2M181.9 255.3h5.2M184.5 252.7v5.2M182.2 258.2h5.2M184.8 255.6v5.2M182.2 257.8h5.2M184.8 255.2v5.2M182.4 258.0h5.2M185.0 255.4v5.2M182.7 255.2h5.2M185.3 252.6v5.2M183.0 254.8h5.2M185.6 252.2v5.2M183.0 257.7h5.2M185.6 255.1v5.2M182.9 254.6h5.2M185.5 252.0v5.2M183.4 255.2h5.2M186.0 252.6v5.2M183.7 254.4h5.2M186.3 251.8v5.2M183.5 255.8h5.2M186.1 253.2v5.2M183.5 257.5h5.2M186.1 254.9v5.2M184.4 257.0h5.2M187.0 254.4v5.2M183.9 257.3h5.2M186.5 254.7v5.2M184.4 255.4h5.2M187.0 252.8v5.2M184.4 253.9h5.2M187.0 251.3v5.2M184.6 255.8h5.2M187.2 253.2v5.2M184.6 257.0h5.2M187.2 254.4v5.2M184.9 256.8h5.2M187.5 254.2v5.2M185.0 253.6h5.2M187.6 251.0v5.2M185.7 255.2h5.2M188.3 252.6v5.2M185.7 256.7h5.2M188.3 254.1v5.2M186.0 253.5h5.2M188.6 250.9v5.2M186.0 256.6h5.2M188.6 254.0v5.2M186.5 253.1h5.2M189.1 250.5v5.2M186.0 256.4h5.2M188.6 253.8v5.2M186.9 254.3h5.2M189.5 251.7v5.2M186.7 256.3h5.2M189.3 253.7v5.2M186.9 254.3h5.2M189.5 251.7v5.2M187.0 252.8h5.2M189.6 250.2v5.2M187.2 255.1h5.2M189.8 252.5v5.2M187.2 252.6h5.2M189.8 250.0v5.2M187.5 253.7h5.2M190.1 251.1v5.2M187.7 255.8h5.2M190.3 253.2v5.2M188.3 253.9h5.2M190.9 251.3v5.2M187.8 252.4h5.2M190.4 249.8v5.2M188.1 253.0h5.2M190.7 250.4v5.2M188.4 255.4h5.2M191.0 252.8v5.2M188.5 252.7h5.2M191.1 250.1v5.2M188.5 252.1h5.2M191.1 249.5v5.2M189.1 252.8h5.2M191.7 250.2v5.2M189.3 255.1h5.2M191.9 252.5v5.2M189.3 253.2h5.2M191.9 250.6v5.2M189.1 254.9h5.2M191.7 252.3v5.2M189.9 252.8h5.2M192.5 250.2v5.2M189.9 251.7h5.2M192.5 249.1v5.2M189.9 252.2h5.2M192.5 249.6v5.2M189.9 254.5h5.2M192.5 251.9v5.2M190.5 253.6h5.2M193.1 251.0v5.2M190.2 254.4h5.2M192.8 251.8v5.2M190.8 252.4h5.2M193.4 249.8v5.2M190.8 251.3h5.2M193.4 248.7v5.2M191.0 252.3h5.2M193.6 249.7v5.2M191.2 254.0h5.2M193.8 251.4v5.2M191.7 251.6h5.2M194.3 249.0v5.2M191.7 253.8h5.2M194.3 251.2v5.2M192.0 253.6h5.2M194.6 251.0v5.2M191.6 253.7h5.2M194.2 251.1v5.2M192.4 251.1h5.2M195.0 248.5v5.2M192.3 253.5h5.2M194.9 250.9v5.2M192.4 252.9h5.2M195.0 250.3v5.2M192.8 250.6h5.2M195.4 248.0v5.2M192.7 251.1h5.2M195.3 248.5v5.2M193.1 250.5h5.2M195.7 247.9v5.2M193.1 251.5h5.2M195.7 248.9v5.2M193.5 250.4h5.2M196.1 247.8v5.2M193.3 252.7h5.2M195.9 250.1v5.2M193.5 250.2h5.2M196.1 247.6v5.2M194.2 250.8h5.2M196.8 248.2v5.2M193.7 252.6h5.2M196.3 250.0v5.2M194.1 250.5h5.2M196.7 247.9v5.2M194.6 250.0h5.2M197.2 247.4v5.2M194.9 250.6h5.2M197.5 248.0v5.2M194.5 249.8h5.2M197.1 247.2v5.2M195.0 251.0h5.2M197.6 248.4v5.2M194.9 252.1h5.2M197.5 249.5v5.2M195.2 251.5h5.2M197.8 248.9v5.2M195.6 251.9h5.2M198.2 249.3v5.2M195.9 249.6h5.2M198.5 247.0v5.2M195.6 249.4h5.2M198.2 246.8v5.2M195.8 251.5h5.2M198.4 248.9v5.2M196.3 251.6h5.2M198.9 249.0v5.2M196.4 249.4h5.2M199.0 246.8v5.2M196.4 249.2h5.2M199.0 246.6v5.2M197.0 249.6h5.2M199.6 247.0v5.2M196.6 251.2h5.2M199.2 248.6v5.2M196.9 250.9h5.2M199.5 248.3v5.2M197.0 251.0h5.2M199.6 248.4v5.2M197.2 250.7h5.2M199.8 248.1v5.2M197.4 248.8h5.2M200.0 246.2v5.2M197.9 249.9h5.2M200.5 247.3v5.2M197.7 248.6h5.2M200.3 246.0v5.2M198.2 248.6h5.2M200.8 246.0v5.2M198.4 248.5h5.2M201.0 245.9v5.2M198.3 249.0h5.2M200.9 246.4v5.2M198.3 248.4h5.2M200.9 245.8v5.2M198.9 249.0h5.2M201.5 246.4v5.2M198.8 248.2h5.2M201.4 245.6v5.2M199.2 249.6h5.2M201.8 247.0v5.2M199.2 250.0h5.2M201.8 247.4v5.2M199.5 248.2h5.2M202.1 245.6v5.2M199.4 249.8h5.2M202.0 247.2v5.2M199.9 248.5h5.2M202.5 245.9v5.2M199.9 249.6h5.2M202.5 247.0v5.2M200.2 248.4h5.2M202.8 245.8v5.2M200.2 247.8h5.2M202.8 245.2v5.2M200.6 248.4h5.2M203.2 245.8v5.2M200.6 247.6h5.2M203.2 245.0v5.2M200.9 248.6h5.2M203.5 246.0v5.2M200.8 249.0h5.2M203.4 246.4v5.2M201.1 248.6h5.2M203.7 246.0v5.2M201.1 248.8h5.2M203.7 246.2v5.2M201.5 247.4h5.2M204.1 244.8v5.2M201.7 248.6h5.2M204.3 246.0v5.2M202.2 248.3h5.2M204.8 245.7v5.2M202.3 247.2h5.2M204.9 244.6v5.2M202.3 247.2h5.2M204.9 244.6v5.2M202.5 247.0h5.2M205.1 244.4v5.2M203.7 243.3h5.2M206.3 240.7v5.2M203.9 243.9h5.2M206.5 241.3v5.2M204.1 242.6h5.2M206.7 240.0v5.2M203.6 243.8h5.2M206.2 241.2v5.2M204.0 241.2h5.2M206.6 238.6v5.2M204.4 241.0h5.2M207.0 238.4v5.2M204.6 240.9h5.2M207.2 238.3v5.2M204.3 243.7h5.2M206.9 241.1v5.2M204.5 242.2h5.2M207.1 239.6v5.2M205.1 240.7h5.2M207.7 238.1v5.2M205.2 242.9h5.2M207.8 240.3v5.2M205.2 243.7h5.2M207.8 241.1v5.2M205.5 240.5h5.2M208.1 237.9v5.2M205.2 243.6h5.2M207.8 241.0v5.2M206.0 241.1h5.2M208.6 238.5v5.2M205.8 240.4h5.2M208.4 237.8v5.2M206.2 241.7h5.2M208.8 239.1v5.2M206.0 243.5h5.2M208.6 240.9v5.2M206.1 242.6h5.2M208.7 240.0v5.2M206.5 243.5h5.2M209.1 240.9v5.2M206.5 240.8h5.2M209.1 238.2v5.2M206.4 243.4h5.2M209.0 240.8v5.2M206.9 241.3h5.2M209.5 238.7v5.2M206.9 243.4h5.2M209.5 240.8v5.2M207.1 241.0h5.2M209.7 238.4v5.2M207.4 243.3h5.2M210.0 240.7v5.2M207.4 240.0h5.2M210.0 237.4v5.2M207.8 243.3h5.2M210.4 240.7v5.2M207.9 241.1h5.2M210.5 238.5v5.2M208.1 239.6h5.2M210.7 237.0v5.2M207.9 239.8h5.2M210.5 237.2v5.2M208.0 243.2h5.2M210.6 240.6v5.2M208.3 243.0h5.2M210.9 240.4v5.2M208.5 239.3h5.2M211.1 236.7v5.2M208.8 241.6h5.2M211.4 239.0v5.2M208.8 239.2h5.2M211.4 236.6v5.2M209.0 241.1h5.2M211.6 238.5v5.2M209.2 239.1h5.2M211.8 236.5v5.2M209.5 240.2h5.2M212.1 237.6v5.2M209.5 239.0h5.2M212.1 236.4v5.2M209.6 240.7h5.2M212.2 238.1v5.2M209.7 238.9h5.2M212.3 236.3v5.2M209.8 239.3h5.2M212.4 236.7v5.2M209.9 242.9h5.2M212.5 240.3v5.2M209.9 239.4h5.2M212.5 236.8v5.2M210.0 242.9h5.2M212.6 240.3v5.2M210.5 241.0h5.2M213.1 238.4v5.2M210.4 242.9h5.2M213.0 240.3v5.2M211.0 241.5h5.2M213.6 238.9v5.2M210.5 238.5h5.2M213.1 235.9v5.2M211.1 238.7h5.2M213.7 236.1v5.2M211.3 238.5h5.2M213.9 235.9v5.2M211.3 241.2h5.2M213.9 238.6v5.2M211.5 238.4h5.2M214.1 235.8v5.2M211.9 240.7h5.2M214.5 238.1v5.2M211.6 238.4h5.2M214.2 235.8v5.2M212.0 240.0h5.2M214.6 237.4v5.2M212.0 238.3h5.2M214.6 235.7v5.2M212.0 238.4h5.2M214.6 235.8v5.2M212.1 238.2h5.2M214.7 235.6v5.2M212.8 241.0h5.2M215.4 238.4v5.2M212.4 243.0h5.2M215.0 240.4v5.2M213.0 238.4h5.2M215.6 235.8v5.2M213.1 238.1h5.2M215.7 235.5v5.2M213.5 238.7h5.2M216.1 236.1v5.2M213.1 238.0h5.2M215.7 235.4v5.2M213.7 242.1h5.2M216.3 239.5v5.2M213.5 238.0h5.2M216.1 235.4v5.2M213.8 241.5h5.2M216.4 238.9v5.2M213.5 243.0h5.2M216.1 240.4v5.2M214.3 242.7h5.2M216.9 240.1v5.2M214.2 243.0h5.2M216.8 240.4v5.2M214.7 239.2h5.2M217.3 236.6v5.2M214.3 237.8h5.2M216.9 235.2v5.2M214.5 242.0h5.2M217.1 239.4v5.2M214.5 243.0h5.2M217.1 240.4v5.2M214.9 242.4h5.2M217.5 239.8v5.2M215.2 243.0h5.2M217.8 240.4v5.2M215.5 237.8h5.2M218.1 235.2v5.2M215.2 237.6h5.2M217.8 235.0v5.2M215.6 241.2h5.2M218.2 238.6v5.2M215.8 243.0h5.2M218.4 240.4v5.2M216.2 241.2h5.2M218.8 238.6v5.2M215.8 242.9h5.2M218.4 240.3v5.2M216.3 241.8h5.2M218.9 239.2v5.2M216.1 237.3h5.2M218.7 234.7v5.2M216.6 238.5h5.2M219.2 235.9v5.2M216.7 237.3h5.2M219.3 234.7v5.2M216.9 239.8h5.2M219.5 237.2v5.2M216.6 242.6h5.2M219.2 240.0v5.2M217.1 242.3h5.2M219.7 239.7v5.2M217.3 242.5h5.2M219.9 239.9v5.2M217.6 241.7h5.2M220.2 239.1v5.2M217.2 242.4h5.2M219.8 239.8v5.2M217.9 242.2h5.2M220.5 239.6v5.2M217.9 236.9h5.2M220.5 234.3v5.2M217.8 240.3h5.2M220.4 237.7v5.2M217.8 242.2h5.2M220.4 239.6v5.2M218.3 241.1h5.2M220.9 238.5v5.2M218.2 236.8h5.2M220.8 234.2v5.2M218.8 240.2h5.2M221.4 237.6v5.2M218.5 241.9h5.2M221.1 239.3v5.2M218.9 240.0h5.2M221.5 237.4v5.2M218.9 236.6h5.2M221.5 234.0v5.2M219.5 241.1h5.2M222.1 238.5v5.2M219.4 236.5h5.2M222.0 233.9v5.2M219.3 240.2h5.2M221.9 237.6v5.2M219.7 241.6h5.2M222.3 239.0v5.2M219.6 240.1h5.2M222.2 237.5v5.2M219.8 236.3h5.2M222.4 233.7v5.2M220.2 238.6h5.2M222.8 236.0v5.2M220.2 241.4h5.2M222.8 238.8v5.2M220.7 236.7h5.2M223.3 234.1v5.2M220.4 241.3h5.2M223.0 238.7v5.2M220.8 239.1h5.2M223.4 236.5v5.2M220.9 236.1h5.2M223.5 233.5v5.2M221.2 239.2h5.2M223.8 236.6v5.2M221.1 236.0h5.2M223.7 233.4v5.2M221.4 236.6h5.2M224.0 234.0v5.2M221.3 235.9h5.2M223.9 233.3v5.2M221.9 239.9h5.2M224.5 237.3v5.2M221.6 240.9h5.2M224.2 238.3v5.2M221.8 238.4h5.2M224.4 235.8v5.2M221.7 240.8h5.2M224.3 238.2v5.2M222.4 239.5h5.2M225.0 236.9v5.2M221.9 240.7h5.2M224.5 238.1v5.2M222.2 238.4h5.2M224.8 235.8v5.2M222.5 235.6h5.2M225.1 233.0v5.2M222.8 239.9h5.2M225.4 237.3v5.2M222.9 235.5h5.2M225.5 232.9v5.2M223.3 237.1h5.2M225.9 234.5v5.2M223.3 235.4h5.2M225.9 232.8v5.2M223.1 240.0h5.2M225.7 237.4v5.2M223.1 235.3h5.2M225.7 232.7v5.2M223.9 235.7h5.2M226.5 233.1v5.2M223.7 240.0h5.2M226.3 237.4v5.2M224.1 236.7h5.2M226.7 234.1v5.2M224.2 239.8h5.2M226.8 237.2v5.2M224.3 237.9h5.2M226.9 235.3v5.2M224.2 235.0h5.2M226.8 232.4v5.2M224.9 239.4h5.2M227.5 236.8v5.2M224.3 234.9h5.2M226.9 232.3v5.2M224.7 238.4h5.2M227.3 235.8v5.2M224.7 234.8h5.2M227.3 232.2v5.2M225.4 235.4h5.2M228.0 232.8v5.2M225.5 234.7h5.2M228.1 232.1v5.2M225.7 238.2h5.2M228.3 235.6v5.2M225.3 239.1h5.2M227.9 236.5v5.2M225.7 235.4h5.2M228.3 232.8v5.2M225.5 238.9h5.2M228.1 236.3v5.2M226.1 235.7h5.2M228.7 233.1v5.2M226.3 234.4h5.2M228.9 231.8v5.2M226.4 234.6h5.2M229.0 232.0v5.2M226.3 238.6h5.2M228.9 236.0v5.2M226.7 234.8h5.2M229.3 232.2v5.2M226.5 238.4h5.2M229.1 235.8v5.2M226.9 237.8h5.2M229.5 235.2v5.2M226.7 238.3h5.2M229.3 235.7v5.2M227.4 237.4h5.2M230.0 234.8v5.2M227.2 233.9h5.2M229.8 231.3v5.2M227.4 236.4h5.2M230.0 233.8v5.2M227.3 233.8h5.2M229.9 231.2v5.2M228.1 237.3h5.2M230.7 234.7v5.2M228.1 237.8h5.2M230.7 235.2v5.2M228.2 237.2h5.2M230.8 234.6v5.2M228.3 237.7h5.2M230.9 235.1v5.2M228.5 233.6h5.2M231.1 231.0v5.2M228.3 233.5h5.2M230.9 230.9v5.2M228.8 233.9h5.2M231.4 231.3v5.2M229.1 237.3h5.2M231.7 234.7v5.2M229.2 236.8h5.2M231.8 234.2v5.2M228.9 237.2h5.2M231.5 234.6v5.2M229.7 234.2h5.2M232.3 231.6v5.2M229.2 237.0h5.2M231.8 234.4v5.2M229.9 236.1h5.2M232.5 233.5v5.2M229.6 236.8h5.2M232.2 234.2v5.2M229.8 233.9h5.2M232.4 231.3v5.2M230.0 236.7h5.2M232.6 234.1v5.2M230.1 236.2h5.2M232.7 233.6v5.2M230.0 236.5h5.2M232.6 233.9v5.2M230.4 235.7h5.2M233.0 233.1v5.2M230.8 236.3h5.2M233.4 233.7v5.2M230.9 235.1h5.2M233.5 232.5v5.2M230.8 236.1h5.2M233.4 233.5v5.2M231.0 235.5h5.2M233.6 232.9v5.2M231.3 232.6h5.2M233.9 230.0v5.2M231.8 233.5h5.2M234.4 230.9v5.2M231.2 232.5h5.2M233.8 229.9v5.2M231.5 233.3h5.2M234.1 230.7v5.2M231.9 235.6h5.2M234.5 233.0v5.2M232.2 234.9h5.2M234.8 232.3v5.2M232.3 235.4h5.2M234.9 232.8v5.2M232.3 233.0h5.2M234.9 230.4v5.2M232.2 235.2h5.2M234.8 232.6v5.2M232.5 234.3h5.2M235.1 231.7v5.2M232.6 235.0h5.2M235.2 232.4v5.2M233.0 233.8h5.2M235.6 231.2v5.2M232.8 232.0h5.2M235.4 229.4v5.2M233.4 232.5h5.2M236.0 229.9v5.2M233.4 234.6h5.2M236.0 232.0v5.2M233.5 234.3h5.2M236.1 231.7v5.2M233.7 234.5h5.2M236.3 231.9v5.2M233.9 233.6h5.2M236.5 231.0v5.2M234.0 231.7h5.2M236.6 229.1v5.2M234.2 233.0h5.2M236.8 230.4v5.2M234.2 234.1h5.2M236.8 231.5v5.2M234.7 233.4h5.2M237.3 230.8v5.2M234.7 231.5h5.2M237.3 228.9v5.2M234.9 232.9h5.2M237.5 230.3v5.2M235.1 231.4h5.2M237.7 228.8v5.2M234.9 233.5h5.2M237.5 230.9v5.2M235.0 233.5h5.2M237.6 230.9v5.2M235.5 232.0h5.2M238.1 229.4v5.2M235.4 233.3h5.2M238.0 230.7v5.2M236.0 232.2h5.2M238.6 229.6v5.2M235.9 231.1h5.2M238.5 228.5v5.2M236.1 232.1h5.2M238.7 229.5v5.2M236.1 232.9h5.2M238.7 230.3v5.2M236.0 232.6h5.2M238.6 230.0v5.2M236.4 230.9h5.2M239.0 228.3v5.2M236.6 231.0h5.2M239.2 228.4v5.2M236.4 232.5h5.2M239.0 229.9v5.2M237.0 232.0h5.2M239.6 229.4v5.2M236.7 230.7h5.2M239.3 228.1v5.2M237.1 231.3h5.2M239.7 228.7v5.2M237.3 230.6h5.2M239.9 228.0v5.2M237.6 231.3h5.2M240.2 228.7v5.2M237.4 231.8h5.2M240.0 229.2v5.2M237.5 231.1h5.2M240.1 228.5v5.2M237.6 230.4h5.2M240.2 227.8v5.2M238.1 230.8h5.2M240.7 228.2v5.2M238.2 230.3h5.2M240.8 227.7v5.2M238.7 230.9h5.2M241.3 228.3v5.2M238.2 230.2h5.2M240.8 227.6v5.2M239.0 230.4h5.2M241.6 227.8v5.2M238.5 230.1h5.2M241.1 227.5v5.2M239.1 230.1h5.2M241.7 227.5v5.2M238.9 230.7h5.2M241.5 228.1v5.2M239.2 230.3h5.2M241.8 227.7v5.2M239.6 230.5h5.2M242.2 227.9v5.2M241.0 229.6h5.2M243.6 227.0v5.2M240.8 230.1h5.2M243.4 227.5v5.2M241.3 229.5h5.2M243.9 226.9v5.2M241.2 230.1h5.2M243.8 227.5v5.2M241.4 229.6h5.2M244.0 227.0v5.2M241.9 228.4h5.2M244.5 225.8v5.2M241.8 230.1h5.2M244.4 227.5v5.2M241.7 230.1h5.2M244.3 227.5v5.2M242.3 228.2h5.2M244.9 225.6v5.2M242.4 228.0h5.2M245.0 225.4v5.2M242.9 228.5h5.2M245.5 225.9v5.2M242.9 230.1h5.2M245.5 227.5v5.2M242.8 228.6h5.2M245.4 226.0v5.2M242.8 230.1h5.2M245.4 227.5v5.2M243.1 227.7h5.2M245.7 225.1v5.2M243.1 230.1h5.2M245.7 227.5v5.2M243.5 228.2h5.2M246.1 225.6v5.2M243.7 230.0h5.2M246.3 227.4v5.2M244.0 229.9h5.2M246.6 227.3v5.2M244.0 227.1h5.2M246.6 224.5v5.2M244.6 227.7h5.2M247.2 225.1v5.2M244.2 230.0h5.2M246.8 227.4v5.2M244.6 229.7h5.2M247.2 227.1v5.2M244.9 226.7h5.2M247.5 224.1v5.2M245.0 226.9h5.2M247.6 224.3v5.2M245.3 226.5h5.2M247.9 223.9v5.2M245.4 227.0h5.2M248.0 224.4v5.2M245.3 230.0h5.2M247.9 227.4v5.2M245.6 228.2h5.2M248.2 225.6v5.2M245.9 229.8h5.2M248.5 227.2v5.2M246.2 227.5h5.2M248.8 224.9v5.2M246.0 229.6h5.2M248.6 227.0v5.2M246.7 227.9h5.2M249.3 225.3v5.2M246.4 229.5h5.2M249.0 226.9v5.2M246.7 226.3h5.2M249.3 223.7v5.2M246.9 229.3h5.2M249.5 226.7v5.2M247.2 226.0h5.2M249.8 223.4v5.2M247.5 225.6h5.2M250.1 223.0v5.2M247.5 229.0h5.2M250.1 226.4v5.2M247.7 229.0h5.2M250.3 226.4v5.2M247.6 228.3h5.2M250.2 225.7v5.2M247.8 225.2h5.2M250.4 222.6v5.2M248.4 228.4h5.2M251.0 225.8v5.2M248.0 225.1h5.2M250.6 222.5v5.2M248.8 226.1h5.2M251.4 223.5v5.2M248.5 228.5h5.2M251.1 225.9v5.2M248.9 228.3h5.2M251.5 225.7v5.2M249.2 228.4h5.2M251.8 225.8v5.2M249.4 225.3h5.2M252.0 222.7v5.2M249.4 228.2h5.2M252.0 225.6v5.2M249.6 226.5h5.2M252.2 223.9v5.2M249.5 224.4h5.2M252.1 221.8v5.2M250.2 225.6h5.2M252.8 223.0v5.2M249.8 227.9h5.2M252.4 225.3v5.2M250.4 226.5h5.2M253.0 223.9v5.2M250.3 224.1h5.2M252.9 221.5v5.2M250.6 226.9h5.2M253.2 224.3v5.2M250.6 227.5h5.2M253.2 224.9v5.2M250.9 227.0h5.2M253.5 224.4v5.2M250.9 223.8h5.2M253.5 221.2v5.2M251.2 224.2h5.2M253.8 221.6v5.2M251.4 223.6h5.2M254.0 221.0v5.2M251.8 224.3h5.2M254.4 221.7v5.2M251.6 223.5h5.2M254.2 220.9v5.2M252.3 223.7h5.2M254.9 221.1v5.2M252.0 226.8h5.2M254.6 224.2v5.2M252.5 224.1h5.2M255.1 221.5v5.2M252.7 223.2h5.2M255.3 220.6v5.2M252.6 223.2h5.2M255.2 220.6v5.2M252.8 226.3h5.2M255.4 223.7v5.2M253.0 223.9h5.2M255.6 221.3v5.2M253.3 223.0h5.2M255.9 220.4v5.2M253.2 224.9h5.2M255.8 222.3v5.2M253.3 225.9h5.2M255.9 223.3v5.2M253.6 224.5h5.2M256.2 221.9v5.2M254.1 222.7h5.2M256.7 220.1v5.2M254.1 224.4h5.2M256.7 221.8v5.2M254.3 222.6h5.2M256.9 220.0v5.2M254.4 223.5h5.2M257.0 220.9v5.2M254.6 222.5h5.2M257.2 219.9v5.2M255.0 223.0h5.2M257.6 220.4v5.2M255.1 222.4h5.2M257.7 219.8v5.2M255.1 222.4h5.2M257.7 219.8v5.2M255.0 222.2h5.2M257.6 219.6v5.2M255.8 223.1h5.2M258.4 220.5v5.2M255.6 224.5h5.2M258.2 221.9v5.2M256.2 223.8h5.2M258.8 221.2v5.2M255.8 222.0h5.2M258.4 219.4v5.2M256.3 222.4h5.2M258.9 219.8v5.2M256.2 221.9h5.2M258.8 219.3v5.2M256.5 223.3h5.2M259.1 220.7v5.2M256.7 221.8h5.2M259.3 219.2v5.2M257.0 222.9h5.2M259.6 220.3v5.2M257.1 221.7h5.2M259.7 219.1v5.2M257.6 222.4h5.2M260.2 219.8v5.2M257.3 223.4h5.2M259.9 220.8v5.2M257.9 222.1h5.2M260.5 219.5v5.2M257.4 221.5h5.2M260.0 218.9v5.2M258.0 222.0h5.2M260.6 219.4v5.2M257.8 223.0h5.2M260.4 220.4v5.2M258.3 222.4h5.2M260.9 219.8v5.2M258.4 221.3h5.2M261.0 218.7v5.2M258.9 221.8h5.2M261.5 219.2v5.2M258.5 221.2h5.2M261.1 218.6v5.2M258.8 221.6h5.2M261.4 219.0v5.2M259.3 222.3h5.2M261.9 219.7v5.2M259.5 221.1h5.2M262.1 218.5v5.2M259.3 221.0h5.2M261.9 218.4v5.2M259.7 221.5h5.2M262.3 218.9v5.2M259.5 220.9h5.2M262.1 218.3v5.2M269.6 214.0h5.2M272.2 211.4v5.2M269.8 213.6h5.2M272.4 211.0v5.2M270.1 213.5h5.2M272.7 210.9v5.2M270.0 213.9h5.2M272.6 211.3v5.2M270.1 213.4h5.2M272.7 210.8v5.2M270.4 213.0h5.2M273.0 210.4v5.2M270.6 213.4h5.2M273.2 210.8v5.2M270.7 212.8h5.2M273.3 210.2v5.2M271.1 212.9h5.2M273.7 210.3v5.2M271.1 212.5h5.2M273.7 209.9v5.2M271.5 212.4h5.2M274.1 209.8v5.2M271.6 213.0h5.2M274.2 210.4v5.2M271.8 212.5h5.2M274.4 209.9v5.2M271.9 212.8h5.2M274.5 210.2v5.2M272.7 211.8h5.2M275.3 209.2v5.2M272.5 211.7h5.2M275.1 209.1v5.2M272.6 212.2h5.2M275.2 209.6v5.2M273.0 212.4h5.2M275.6 209.8v5.2M273.3 212.1h5.2M275.9 209.5v5.2M273.2 212.1h5.2M275.8 209.5v5.2M273.7 211.8h5.2M276.3 209.2v5.2M273.8 210.9h5.2M276.4 208.3v5.2M273.8 211.3h5.2M276.4 208.7v5.2M274.1 210.8h5.2M276.7 208.2v5.2M274.6 211.4h5.2M277.2 208.8v5.2M274.5 211.5h5.2M277.1 208.9v5.2M274.9 210.6h5.2M277.5 208.0v5.2M275.0 210.4h5.2M277.6 207.8v5.2M275.4 210.8h5.2M278.0 208.2v5.2M275.1 210.3h5.2M277.7 207.7v5.2M275.7 210.5h5.2M278.3 207.9v5.2M275.7 210.1h5.2M278.3 207.5v5.2M276.2 210.3h5.2M278.8 207.7v5.2M276.0 210.7h5.2M278.6 208.1v5.2M276.5 210.1h5.2M279.1 207.5v5.2M276.3 209.7h5.2M278.9 207.1v5.2M276.5 209.8h5.2M279.1 207.2v5.2M277.0 209.6h5.2M279.6 207.0v5.2M277.0 210.0h5.2M279.6 207.4v5.2M277.1 210.2h5.2M279.7 207.6v5.2M277.7 209.8h5.2M280.3 207.2v5.2M277.5 210.0h5.2M280.1 207.4v5.2M277.7 209.7h5.2M280.3 207.1v5.2M277.9 209.8h5.2M280.5 207.2v5.2M278.3 209.4h5.2M280.9 206.8v5.2M278.3 209.6h5.2M280.9 207.0v5.2M278.7 209.3h5.2M281.3 206.7v5.2M279.0 208.7h5.2M281.6 206.1v5.2M279.4 209.1h5.2M282.0 206.5v5.2M279.0 208.5h5.2M281.6 205.9v5.2M279.9 209.0h5.2M282.5 206.4v5.2M279.4 209.0h5.2M282.0 206.4v5.2M264.6 217.6h5.2M267.2 215.0v5.2M261.9 219.6h5.2M264.5 217.0v5.2M282.6 207.3h5.2M285.2 204.7v5.2M287.4 204.3h5.2M290.0 201.7v5.2M285.8 205.2h5.2M288.4 202.6v5.2M234.6 227.6h5.2M237.2 225.0v5.2M211.4 236.2h5.2M214.0 233.6v5.2M219.4 233.2h5.2M222.0 230.6v5.2" stroke="#000" stroke-width="1" fill="none"/>
<path d="M55.15 317.85L312.85 199.50" stroke="#9a9a9a" stroke-width="1.5" fill="none"/>
</g>
<rect x="55.15" y="199.50" width="257.70" height="118.35" fill="none" stroke="#404040" stroke-width="1"/>
<path d="M55.15 317.85v-4.5M55.15 199.50v4.5M119.57 317.85v-4.5M119.57 199.50v4.5M184.00 317.85v-4.5M184.00 199.50v4.5M248.43 317.85v-4.5M248.43 199.50v4.5M312.85 317.85v-4.5M312.85 199.50v4.5M55.15 317.85v-2.3M55.15 199.50v2.3M71.26 317.85v-2.3M71.26 199.50v2.3M87.36 317.85v-2.3M87.36 199.50v2.3M103.47 317.85v-2.3M103.47 199.50v2.3M119.57 317.85v-2.3M119.57 199.50v2.3M135.68 317.85v-2.3M135.68 199.50v2.3M151.79 317.85v-2.3M151.79 199.50v2.3M167.89 317.85v-2.3M167.89 199.50v2.3M184.00 317.85v-2.3M184.00 199.50v2.3M200.11 317.85v-2.3M200.11 199.50v2.3M216.21 317.85v-2.3M216.21 199.50v2.3M232.32 317.85v-2.3M232.32 199.50v2.3M248.43 317.85v-2.3M248.43 199.50v2.3M264.53 317.85v-2.3M264.53 199.50v2.3M280.64 317.85v-2.3M280.64 199.50v2.3M296.74 317.85v-2.3M296.74 199.50v2.3M312.85 317.85v-2.3M312.85 199.50v2.3M55.15 317.85h4.5M312.85 317.85h-4.5M55.15 288.26h4.5M312.85 288.26h-4.5M55.15 258.68h4.5M312.85 258.68h-4.5M55.15 229.09h4.5M312.85 229.09h-4.5M55.15 199.50h4.5M312.85 199.50h-4.5M55.15 317.85h2.3M312.85 317.85h-2.3M55.15 310.45h2.3M312.85 310.45h-2.3M55.15 303.06h2.3M312.85 303.06h-2.3M55.15 295.66h2.3M312.85 295.66h-2.3M55.15 288.26h2.3M312.85 288.26h-2.3M55.15 280.87h2.3M312.85 280.87h-2.3M55.15 273.47h2.3M312.85 273.47h-2.3M55.15 266.07h2.3M312.85 266.07h-2.3M55.15 258.68h2.3M312.85 258.68h-2.3M55.15 251.28h2.3M312.85 251.28h-2.3M55.15 243.88h2.3M312.85 243.88h-2.3M55.15 236.48h2.3M312.85 236.48h-2.3M55.15 229.09h2.3M312.85 229.09h-2.3M55.15 221.69h2.3M312.85 221.69h-2.3M55.15 214.29h2.3M312.85 214.29h-2.3M55.15 206.90h2.3M312.85 206.90h-2.3M55.15 199.50h2.3M312.85 199.50h-2.3" stroke="#404040" stroke-width="1" fill="none"/>
<text transform="translate(55.15,331.00) scale(0.95,1)" font-size="10.7" text-anchor="middle" fill="#3a3a3a">−1</text>
<text transform="translate(119.57,331.00) scale(0.95,1)" font-size="10.7" text-anchor="middle" fill="#3a3a3a">−0.8</text>
<text transform="translate(184.00,331.00) scale(0.95,1)" font-size="10.7" text-anchor="middle" fill="#3a3a3a">−0.6</text>
<text transform="translate(248.43,331.00) scale(0.95,1)" font-size="10.7" text-anchor="middle" fill="#3a3a3a">−0.4</text>
<text transform="translate(312.85,331.00) scale(0.95,1)" font-size="10.7" text-anchor="middle" fill="#3a3a3a">−0.2</text>
<text transform="translate(51.60,321.55) scale(0.95,1)" font-size="10.7" text-anchor="end" fill="#3a3a3a">−1</text>
<text transform="translate(51.60,291.96) scale(0.95,1)" font-size="10.7" text-anchor="end" fill="#3a3a3a">−0.8</text>
<text transform="translate(51.60,262.38) scale(0.95,1)" font-size="10.7" text-anchor="end" fill="#3a3a3a">−0.6</text>
<text transform="translate(51.60,232.79) scale(0.95,1)" font-size="10.7" text-anchor="end" fill="#3a3a3a">−0.4</text>
<text transform="translate(51.60,203.20) scale(0.95,1)" font-size="10.7" text-anchor="end" fill="#3a3a3a">−0.2</text>
<text transform="translate(186.30,344.60) scale(1.0,1)" font-size="11.0" font-weight="bold" text-anchor="middle" fill="#000">three-cell correlation (data)</text>
<text transform="translate(14.60,258.50) rotate(-90) scale(1.0,1)" font-size="11.0" font-weight="bold" text-anchor="middle" fill="#000">three-cell correlation</text>
<text transform="translate(26.60,258.50) rotate(-90) scale(1.0,1)" font-size="11.0" font-weight="bold" text-anchor="middle" fill="#000">(model)</text>
<text transform="translate(67.10,249.20) scale(0.85,1)" font-size="11.2" stroke="#111" stroke-width="0.25" text-anchor="start" fill="#111">(C)</text>
<rect x="163.40" y="279.60" width="92.90" height="29.90" fill="#fff" stroke="#404040" stroke-width="1"/>
<path d="M177.4 288.7h5.8M180.3 285.8v5.8" stroke="#000" stroke-width="0.9" fill="none"/>
<text transform="translate(195.20,292.10) scale(1.02,1)" font-size="10.2" stroke="#111" stroke-width="0.25" text-anchor="start" fill="#111">MC 89.51%</text>
<path d="M169.60 301.20H190.60" stroke="#9a9a9a" stroke-width="1.3" fill="none"/>
<text transform="translate(197.80,304.60) scale(1.12,1)" font-size="10.2" stroke="#111" stroke-width="0.25" text-anchor="start" fill="#111">equality</text>
<path d="M379.90 216.00L406.30 214.00L432.70 218.70L459.10 226.60L485.50 236.80L511.90 248.40L538.30 261.50L564.70 276.80L591.10 292.90" stroke="#000" stroke-width="1.2" fill="none"/>
<circle cx="379.90" cy="216.00" r="2.7" fill="none" stroke="#000" stroke-width="1"/>
<circle cx="406.30" cy="214.00" r="2.7" fill="none" stroke="#000" stroke-width="1"/>
<circle cx="432.70" cy="218.70" r="2.7" fill="none" stroke="#000" stroke-width="1"/>
<circle cx="459.10" cy="226.60" r="2.7" fill="none" stroke="#000" stroke-width="1"/>
<circle cx="485.50" cy="236.80" r="2.7" fill="none" stroke="#000" stroke-width="1"/>
<circle cx="511.90" cy="248.40" r="2.7" fill="none" stroke="#000" stroke-width="1"/>
<circle cx="538.30" cy="261.50" r="2.7" fill="none" stroke="#000" stroke-width="1"/>
<circle cx="564.70" cy="276.80" r="2.7" fill="none" stroke="#000" stroke-width="1"/>
<circle cx="591.10" cy="292.90" r="2.7" fill="none" stroke="#000" stroke-width="1"/>
<path d="M379.90 216.40L406.30 214.20L432.70 218.90L459.10 226.80L485.50 238.00L511.90 249.80L538.30 261.90L564.70 279.80L591.10 288.30" stroke="#ff0000" stroke-width="1.2" fill="none"/>
<rect x="377.30" y="213.80" width="5.2" height="5.2" fill="none" stroke="#ff0000" stroke-width="1"/>
<rect x="403.70" y="211.60" width="5.2" height="5.2" fill="none" stroke="#ff0000" stroke-width="1"/>
<rect x="430.10" y="216.30" width="5.2" height="5.2" fill="none" stroke="#ff0000" stroke-width="1"/>
<rect x="456.50" y="224.20" width="5.2" height="5.2" fill="none" stroke="#ff0000" stroke-width="1"/>
<rect x="482.90" y="235.40" width="5.2" height="5.2" fill="none" stroke="#ff0000" stroke-width="1"/>
<rect x="509.30" y="247.20" width="5.2" height="5.2" fill="none" stroke="#ff0000" stroke-width="1"/>
<rect x="535.70" y="259.30" width="5.2" height="5.2" fill="none" stroke="#ff0000" stroke-width="1"/>
<rect x="562.10" y="277.20" width="5.2" height="5.2" fill="none" stroke="#ff0000" stroke-width="1"/>
<rect x="588.50" y="285.70" width="5.2" height="5.2" fill="none" stroke="#ff0000" stroke-width="1"/>
<rect x="353.50" y="204.50" width="264.00" height="109.30" fill="none" stroke="#404040" stroke-width="1"/>
<path d="M379.90 313.80v-4.2M379.90 204.50v4.2M406.30 313.80v-4.2M406.30 204.50v4.2M432.70 313.80v-4.2M432.70 204.50v4.2M459.10 313.80v-4.2M459.10 204.50v4.2M485.50 313.80v-4.2M485.50 204.50v4.2M511.90 313.80v-4.2M511.90 204.50v4.2M538.30 313.80v-4.2M538.30 204.50v4.2M564.70 313.80v-4.2M564.70 204.50v4.2M591.10 313.80v-4.2M591.10 204.50v4.2M617.50 313.80v-4.2M617.50 204.50v4.2M366.70 313.80v-2.2M366.70 204.50v2.2M393.10 313.80v-2.2M393.10 204.50v2.2M419.50 313.80v-2.2M419.50 204.50v2.2M445.90 313.80v-2.2M445.90 204.50v2.2M472.30 313.80v-2.2M472.30 204.50v2.2M498.70 313.80v-2.2M498.70 204.50v2.2M525.10 313.80v-2.2M525.10 204.50v2.2M551.50 313.80v-2.2M551.50 204.50v2.2M577.90 313.80v-2.2M577.90 204.50v2.2M604.30 313.80v-2.2M604.30 204.50v2.2M353.50 313.80h4.2M617.50 313.80h-4.2M353.50 291.94h4.2M617.50 291.94h-4.2M353.50 270.08h4.2M617.50 270.08h-4.2M353.50 248.22h4.2M617.50 248.22h-4.2M353.50 226.36h4.2M617.50 226.36h-4.2M353.50 204.50h4.2M617.50 204.50h-4.2M353.50 307.22h2.2M617.50 307.22h-2.2M353.50 303.37h2.2M617.50 303.37h-2.2M353.50 300.64h2.2M617.50 300.64h-2.2M353.50 298.52h2.2M617.50 298.52h-2.2M353.50 296.79h2.2M617.50 296.79h-2.2M353.50 295.33h2.2M617.50 295.33h-2.2M353.50 294.06h2.2M617.50 294.06h-2.2M353.50 292.94h2.2M617.50 292.94h-2.2M353.50 285.36h2.2M617.50 285.36h-2.2M353.50 281.51h2.2M617.50 281.51h-2.2M353.50 278.78h2.2M617.50 278.78h-2.2M353.50 276.66h2.2M617.50 276.66h-2.2M353.50 274.93h2.2M617.50 274.93h-2.2M353.50 273.47h2.2M617.50 273.47h-2.2M353.50 272.20h2.2M617.50 272.20h-2.2M353.50 271.08h2.2M617.50 271.08h-2.2M353.50 263.50h2.2M617.50 263.50h-2.2M353.50 259.65h2.2M617.50 259.65h-2.2M353.50 256.92h2.2M617.50 256.92h-2.2M353.50 254.80h2.2M617.50 254.80h-2.2M353.50 253.07h2.2M617.50 253.07h-2.2M353.50 251.61h2.2M617.50 251.61h-2.2M353.50 250.34h2.2M617.50 250.34h-2.2M353.50 249.22h2.2M617.50 249.22h-2.2M353.50 241.64h2.2M617.50 241.64h-2.2M353.50 237.79h2.2M617.50 237.79h-2.2M353.50 235.06h2.2M617.50 235.06h-2.2M353.50 232.94h2.2M617.50 232.94h-2.2M353.50 231.21h2.2M617.50 231.21h-2.2M353.50 229.75h2.2M617.50 229.75h-2.2M353.50 228.48h2.2M617.50 228.48h-2.2M353.50 227.36h2.2M617.50 227.36h-2.2M353.50 219.78h2.2M617.50 219.78h-2.2M353.50 215.93h2.2M617.50 215.93h-2.2M353.50 213.20h2.2M617.50 213.20h-2.2M353.50 211.08h2.2M617.50 211.08h-2.2M353.50 209.35h2.2M617.50 209.35h-2.2M353.50 207.89h2.2M617.50 207.89h-2.2M353.50 206.62h2.2M617.50 206.62h-2.2M353.50 205.50h2.2M617.50 205.50h-2.2" stroke="#404040" stroke-width="1" fill="none"/>
<text transform="translate(379.90,327.60) scale(0.95,1)" font-size="10.7" text-anchor="middle" fill="#3a3a3a">0</text>
<text transform="translate(406.30,327.60) scale(0.95,1)" font-size="10.7" text-anchor="middle" fill="#3a3a3a">1</text>
<text transform="translate(432.70,327.60) scale(0.95,1)" font-size="10.7" text-anchor="middle" fill="#3a3a3a">2</text>
<text transform="translate(459.10,327.60) scale(0.95,1)" font-size="10.7" text-anchor="middle" fill="#3a3a3a">3</text>
<text transform="translate(485.50,327.60) scale(0.95,1)" font-size="10.7" text-anchor="middle" fill="#3a3a3a">4</text>
<text transform="translate(511.90,327.60) scale(0.95,1)" font-size="10.7" text-anchor="middle" fill="#3a3a3a">5</text>
<text transform="translate(538.30,327.60) scale(0.95,1)" font-size="10.7" text-anchor="middle" fill="#3a3a3a">6</text>
<text transform="translate(564.70,327.60) scale(0.95,1)" font-size="10.7" text-anchor="middle" fill="#3a3a3a">7</text>
<text transform="translate(591.10,327.60) scale(0.95,1)" font-size="10.7" text-anchor="middle" fill="#3a3a3a">8</text>
<text transform="translate(617.50,327.60) scale(0.95,1)" font-size="10.7" text-anchor="middle" fill="#3a3a3a">9</text>
<text transform="translate(350.20,313.80) scale(1.05,1)" font-size="6.4" text-anchor="end" fill="#3a3a3a">−5</text>
<text transform="translate(342.60,317.20) scale(0.95,1)" font-size="10.7" text-anchor="end" fill="#3a3a3a">10</text>
<text transform="translate(350.20,291.94) scale(1.05,1)" font-size="6.4" text-anchor="end" fill="#3a3a3a">−4</text>
<text transform="translate(342.60,295.34) scale(0.95,1)" font-size="10.7" text-anchor="end" fill="#3a3a3a">10</text>
<text transform="translate(350.20,270.08) scale(1.05,1)" font-size="6.4" text-anchor="end" fill="#3a3a3a">−3</text>
<text transform="translate(342.60,273.48) scale(0.95,1)" font-size="10.7" text-anchor="end" fill="#3a3a3a">10</text>
<text transform="translate(350.20,248.22) scale(1.05,1)" font-size="6.4" text-anchor="end" fill="#3a3a3a">−2</text>
<text transform="translate(342.60,251.62) scale(0.95,1)" font-size="10.7" text-anchor="end" fill="#3a3a3a">10</text>
<text transform="translate(350.20,226.36) scale(1.05,1)" font-size="6.4" text-anchor="end" fill="#3a3a3a">−1</text>
<text transform="translate(342.60,229.76) scale(0.95,1)" font-size="10.7" text-anchor="end" fill="#3a3a3a">10</text>
<text transform="translate(350.20,204.50) scale(1.05,1)" font-size="6.4" text-anchor="end" fill="#3a3a3a">0</text>
<text transform="translate(346.60,207.90) scale(0.95,1)" font-size="10.7" text-anchor="end" fill="#3a3a3a">10</text>
<text transform="translate(483.80,341.00) scale(1.0,1)" font-size="11.0" font-weight="bold" text-anchor="middle" fill="#000">K</text>
<text transform="translate(326.20,258.60) rotate(-90) scale(1.0,1)" font-size="11.0" font-weight="bold" text-anchor="middle" fill="#000">P(K)</text>
<text transform="translate(381.40,237.30) scale(0.97,1)" font-size="11.4" stroke="#111" stroke-width="0.25" text-anchor="start" fill="#111">(D)</text>
<rect x="396.3" y="261.3" width="65.5" height="33.2" fill="#fff" stroke="#404040" stroke-width="1"/>
<path d="M403.2 270.6H423.8" stroke="#000" stroke-width="1.3"/><circle cx="413.3" cy="270.6" r="2.2" fill="none" stroke="#000" stroke-width="1"/>
<path d="M403.2 284.85H423.8" stroke="#ff0000" stroke-width="1.3"/><rect x="410.7" y="282.25" width="5.2" height="5.2" fill="none" stroke="#ff0000" stroke-width="1"/>
<text transform="translate(428.70,274.75) scale(1.0,1)" font-size="11.6" stroke="#111" stroke-width="0.25" text-anchor="start" fill="#111">Data</text>
<text transform="translate(428.70,288.90) scale(1.0,1)" font-size="11.6" stroke="#111" stroke-width="0.25" text-anchor="start" fill="#111">MC</text>
</svg>
</body></html>
